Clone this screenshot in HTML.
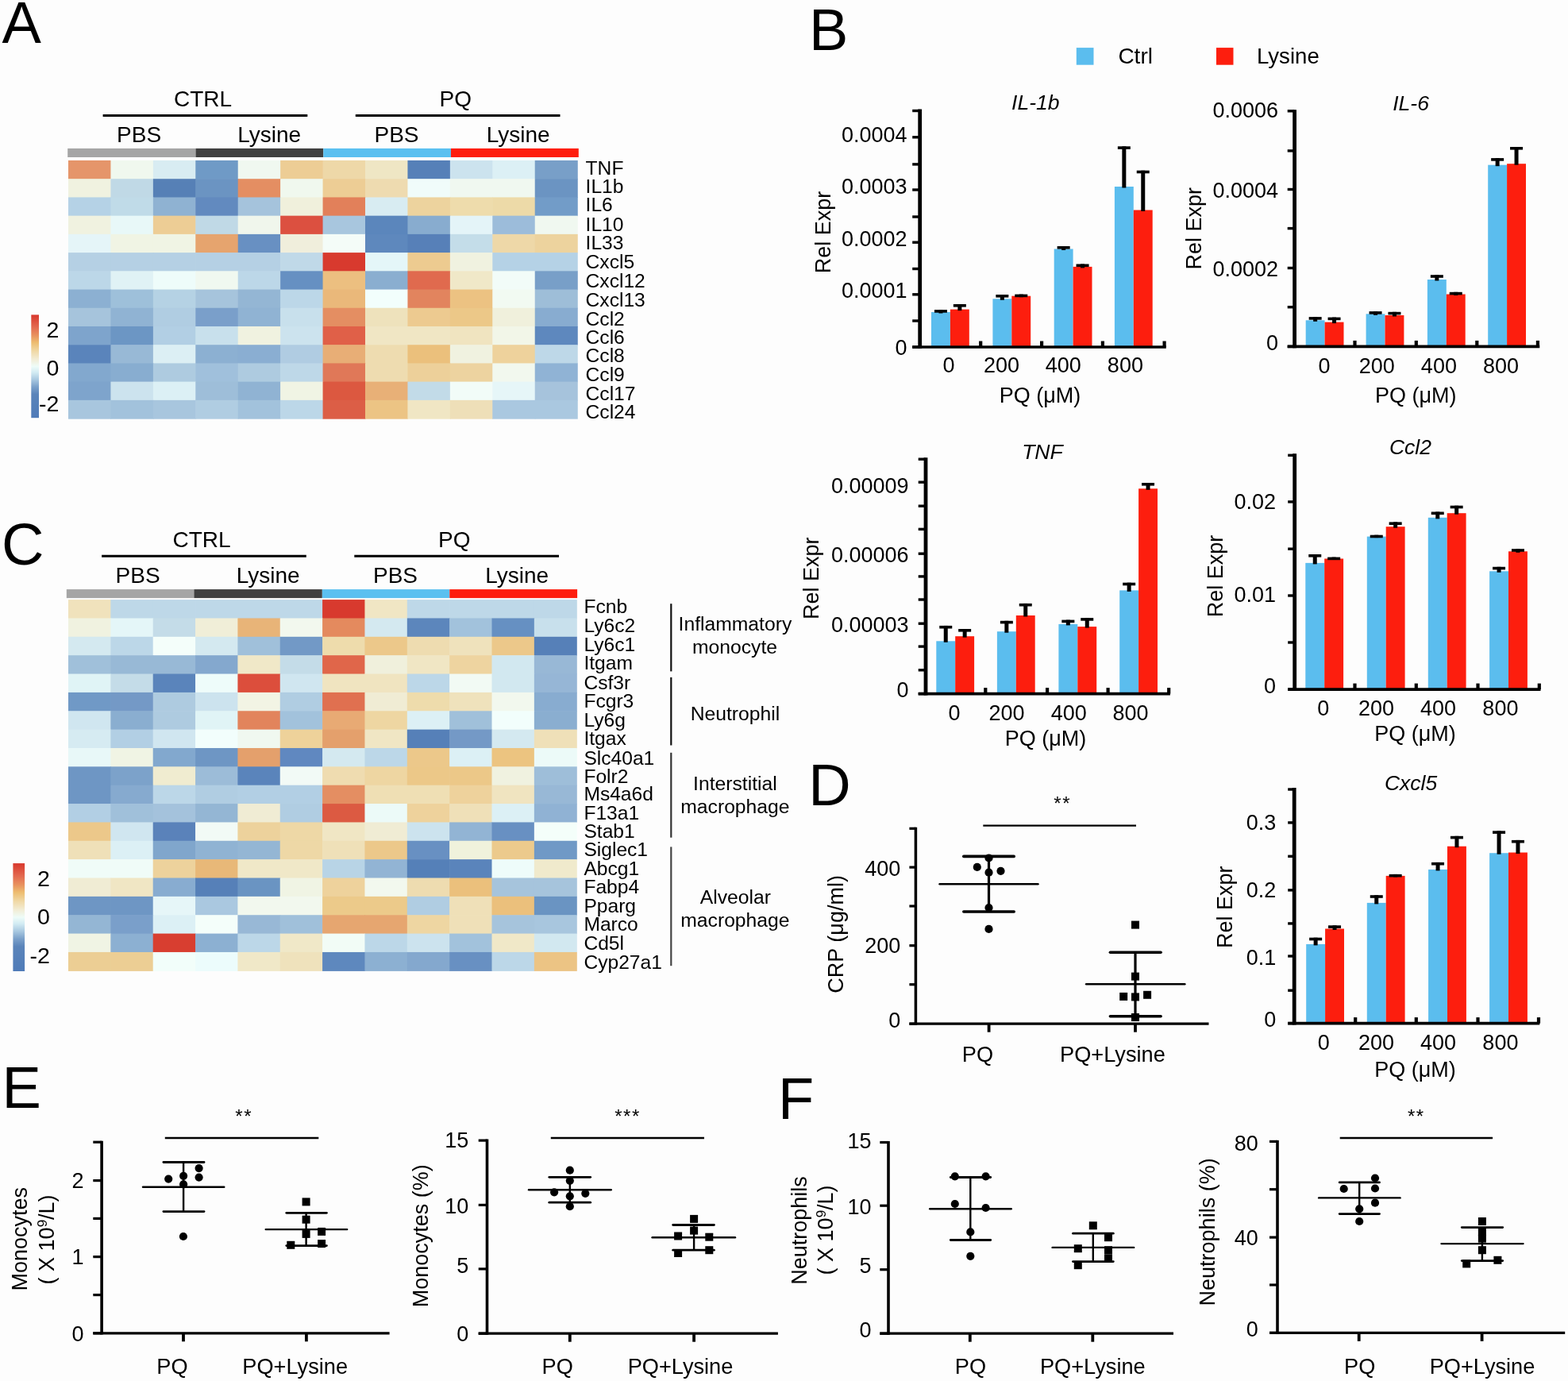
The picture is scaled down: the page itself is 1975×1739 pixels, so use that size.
<!DOCTYPE html>
<html><head><meta charset="utf-8"><title>Figure</title><style>html,body{margin:0;padding:0;background:#fdfdfd;overflow:hidden;}svg{display:block;}</style></head><body><svg width="1975" height="1739" viewBox="0 0 1975 1739" font-family="'Liberation Sans', Arial, sans-serif" fill="#000"><rect width="1975" height="1739" fill="#fdfdfd"/><text x="2.5" y="54.4" font-size="74" text-anchor="start">A</text>
<text x="255.6" y="133.7" font-size="28" text-anchor="middle">CTRL</text>
<text x="573.8" y="133.7" font-size="28" text-anchor="middle">PQ</text>
<line x1="129.6" y1="145.4" x2="387.3" y2="145.4" stroke="#000" stroke-width="3" stroke-linecap="butt"/>
<line x1="447.8" y1="145.4" x2="705.5" y2="145.4" stroke="#000" stroke-width="3" stroke-linecap="butt"/>
<text x="175.1" y="179.4" font-size="28" text-anchor="middle">PBS</text>
<text x="339.2" y="179.4" font-size="28" text-anchor="middle">Lysine</text>
<text x="499.5" y="179.4" font-size="28" text-anchor="middle">PBS</text>
<text x="652.7" y="179.4" font-size="28" text-anchor="middle">Lysine</text>
<rect x="85.2" y="186.9" width="161.3" height="11.1" fill="#a5a5a5"/>
<rect x="246.5" y="186.9" width="160.8" height="11.1" fill="#404040"/>
<rect x="407.3" y="186.9" width="160.7" height="11.1" fill="#5bc0f0"/>
<rect x="568" y="186.9" width="160.8" height="11.1" fill="#fe1e0e"/>
<rect x="86" y="202" width="54.03" height="23.82" fill="#e5956a"/>
<rect x="139.43" y="202" width="54.03" height="23.82" fill="#f0f8ee"/>
<rect x="192.86" y="202" width="54.03" height="23.82" fill="#d8ecf2"/>
<rect x="246.29" y="202" width="54.03" height="23.82" fill="#6f9ac6"/>
<rect x="299.72" y="202" width="54.03" height="23.82" fill="#f0f8f0"/>
<rect x="353.15" y="202" width="54.03" height="23.82" fill="#edcd95"/>
<rect x="406.58" y="202" width="54.03" height="23.82" fill="#eed8a8"/>
<rect x="460.01" y="202" width="54.03" height="23.82" fill="#efe6c4"/>
<rect x="513.44" y="202" width="54.03" height="23.82" fill="#5680b8"/>
<rect x="566.87" y="202" width="54.03" height="23.82" fill="#cce3ee"/>
<rect x="620.3" y="202" width="54.03" height="23.82" fill="#dcf0f5"/>
<rect x="673.73" y="202" width="54.03" height="23.82" fill="#789fc8"/>
<rect x="86" y="225.22" width="54.03" height="23.82" fill="#f0f2e0"/>
<rect x="139.43" y="225.22" width="54.03" height="23.82" fill="#c0d9e6"/>
<rect x="192.86" y="225.22" width="54.03" height="23.82" fill="#5680b6"/>
<rect x="246.29" y="225.22" width="54.03" height="23.82" fill="#6b94c2"/>
<rect x="299.72" y="225.22" width="54.03" height="23.82" fill="#e48e62"/>
<rect x="353.15" y="225.22" width="54.03" height="23.82" fill="#f0f8ee"/>
<rect x="406.58" y="225.22" width="54.03" height="23.82" fill="#edcd95"/>
<rect x="460.01" y="225.22" width="54.03" height="23.82" fill="#eedbb0"/>
<rect x="513.44" y="225.22" width="54.03" height="23.82" fill="#f0fcfa"/>
<rect x="566.87" y="225.22" width="54.03" height="23.82" fill="#f0f8f0"/>
<rect x="620.3" y="225.22" width="54.03" height="23.82" fill="#f0f8f0"/>
<rect x="673.73" y="225.22" width="54.03" height="23.82" fill="#6b94c2"/>
<rect x="86" y="248.44" width="54.03" height="23.82" fill="#b5d2e6"/>
<rect x="139.43" y="248.44" width="54.03" height="23.82" fill="#c0dbe8"/>
<rect x="192.86" y="248.44" width="54.03" height="23.82" fill="#8fb2d2"/>
<rect x="246.29" y="248.44" width="54.03" height="23.82" fill="#628abf"/>
<rect x="299.72" y="248.44" width="54.03" height="23.82" fill="#a5c3dc"/>
<rect x="353.15" y="248.44" width="54.03" height="23.82" fill="#f0f0dc"/>
<rect x="406.58" y="248.44" width="54.03" height="23.82" fill="#e2805a"/>
<rect x="460.01" y="248.44" width="54.03" height="23.82" fill="#d8ecf2"/>
<rect x="513.44" y="248.44" width="54.03" height="23.82" fill="#edd39e"/>
<rect x="566.87" y="248.44" width="54.03" height="23.82" fill="#eedcac"/>
<rect x="620.3" y="248.44" width="54.03" height="23.82" fill="#eddaa8"/>
<rect x="673.73" y="248.44" width="54.03" height="23.82" fill="#729cc8"/>
<rect x="86" y="271.66" width="54.03" height="23.82" fill="#f0f2e0"/>
<rect x="139.43" y="271.66" width="54.03" height="23.82" fill="#e8f8f8"/>
<rect x="192.86" y="271.66" width="54.03" height="23.82" fill="#edcd95"/>
<rect x="246.29" y="271.66" width="54.03" height="23.82" fill="#c0d9e6"/>
<rect x="299.72" y="271.66" width="54.03" height="23.82" fill="#f0f6ec"/>
<rect x="353.15" y="271.66" width="54.03" height="23.82" fill="#dc5040"/>
<rect x="406.58" y="271.66" width="54.03" height="23.82" fill="#a8c6de"/>
<rect x="460.01" y="271.66" width="54.03" height="23.82" fill="#5b86bc"/>
<rect x="513.44" y="271.66" width="54.03" height="23.82" fill="#88accf"/>
<rect x="566.87" y="271.66" width="54.03" height="23.82" fill="#e4f4f8"/>
<rect x="620.3" y="271.66" width="54.03" height="23.82" fill="#9cbcda"/>
<rect x="673.73" y="271.66" width="54.03" height="23.82" fill="#f0f8f0"/>
<rect x="86" y="294.88" width="54.03" height="23.82" fill="#e5f5f8"/>
<rect x="139.43" y="294.88" width="54.03" height="23.82" fill="#f0f4e4"/>
<rect x="192.86" y="294.88" width="54.03" height="23.82" fill="#f0f4e4"/>
<rect x="246.29" y="294.88" width="54.03" height="23.82" fill="#e6a46e"/>
<rect x="299.72" y="294.88" width="54.03" height="23.82" fill="#6890c2"/>
<rect x="353.15" y="294.88" width="54.03" height="23.82" fill="#f0eedc"/>
<rect x="406.58" y="294.88" width="54.03" height="23.82" fill="#f4fcf8"/>
<rect x="460.01" y="294.88" width="54.03" height="23.82" fill="#5e88bd"/>
<rect x="513.44" y="294.88" width="54.03" height="23.82" fill="#5780b8"/>
<rect x="566.87" y="294.88" width="54.03" height="23.82" fill="#c4dde9"/>
<rect x="620.3" y="294.88" width="54.03" height="23.82" fill="#eed8a8"/>
<rect x="673.73" y="294.88" width="54.03" height="23.82" fill="#edd39e"/>
<rect x="86" y="318.1" width="54.03" height="23.82" fill="#b5d0e4"/>
<rect x="139.43" y="318.1" width="54.03" height="23.82" fill="#b5d0e4"/>
<rect x="192.86" y="318.1" width="54.03" height="23.82" fill="#b5d0e4"/>
<rect x="246.29" y="318.1" width="54.03" height="23.82" fill="#b5d0e4"/>
<rect x="299.72" y="318.1" width="54.03" height="23.82" fill="#b5d0e4"/>
<rect x="353.15" y="318.1" width="54.03" height="23.82" fill="#c0d9e8"/>
<rect x="406.58" y="318.1" width="54.03" height="23.82" fill="#d83a2e"/>
<rect x="460.01" y="318.1" width="54.03" height="23.82" fill="#e4f6f8"/>
<rect x="513.44" y="318.1" width="54.03" height="23.82" fill="#edcb90"/>
<rect x="566.87" y="318.1" width="54.03" height="23.82" fill="#f0f2e0"/>
<rect x="620.3" y="318.1" width="54.03" height="23.82" fill="#b5d2e6"/>
<rect x="673.73" y="318.1" width="54.03" height="23.82" fill="#b5d2e6"/>
<rect x="86" y="341.32" width="54.03" height="23.82" fill="#bcd7e8"/>
<rect x="139.43" y="341.32" width="54.03" height="23.82" fill="#e0f2f5"/>
<rect x="192.86" y="341.32" width="54.03" height="23.82" fill="#eefcfa"/>
<rect x="246.29" y="341.32" width="54.03" height="23.82" fill="#f0f8f0"/>
<rect x="299.72" y="341.32" width="54.03" height="23.82" fill="#bcd7e8"/>
<rect x="353.15" y="341.32" width="54.03" height="23.82" fill="#6690c2"/>
<rect x="406.58" y="341.32" width="54.03" height="23.82" fill="#ecbf80"/>
<rect x="460.01" y="341.32" width="54.03" height="23.82" fill="#8aaed0"/>
<rect x="513.44" y="341.32" width="54.03" height="23.82" fill="#e06a4e"/>
<rect x="566.87" y="341.32" width="54.03" height="23.82" fill="#f0e8c8"/>
<rect x="620.3" y="341.32" width="54.03" height="23.82" fill="#f2fcf8"/>
<rect x="673.73" y="341.32" width="54.03" height="23.82" fill="#789fc8"/>
<rect x="86" y="364.54" width="54.03" height="23.82" fill="#8cb0d2"/>
<rect x="139.43" y="364.54" width="54.03" height="23.82" fill="#9ec0da"/>
<rect x="192.86" y="364.54" width="54.03" height="23.82" fill="#b5d2e4"/>
<rect x="246.29" y="364.54" width="54.03" height="23.82" fill="#a6c4dc"/>
<rect x="299.72" y="364.54" width="54.03" height="23.82" fill="#94b6d4"/>
<rect x="353.15" y="364.54" width="54.03" height="23.82" fill="#bcd7e8"/>
<rect x="406.58" y="364.54" width="54.03" height="23.82" fill="#eab87a"/>
<rect x="460.01" y="364.54" width="54.03" height="23.82" fill="#f2fefc"/>
<rect x="513.44" y="364.54" width="54.03" height="23.82" fill="#e2845e"/>
<rect x="566.87" y="364.54" width="54.03" height="23.82" fill="#ecc282"/>
<rect x="620.3" y="364.54" width="54.03" height="23.82" fill="#f2faf2"/>
<rect x="673.73" y="364.54" width="54.03" height="23.82" fill="#9ebed8"/>
<rect x="86" y="387.76" width="54.03" height="23.82" fill="#a6c4dc"/>
<rect x="139.43" y="387.76" width="54.03" height="23.82" fill="#90b3d3"/>
<rect x="192.86" y="387.76" width="54.03" height="23.82" fill="#b0cde2"/>
<rect x="246.29" y="387.76" width="54.03" height="23.82" fill="#7a9fca"/>
<rect x="299.72" y="387.76" width="54.03" height="23.82" fill="#90b3d3"/>
<rect x="353.15" y="387.76" width="54.03" height="23.82" fill="#c8e0ec"/>
<rect x="406.58" y="387.76" width="54.03" height="23.82" fill="#e48e62"/>
<rect x="460.01" y="387.76" width="54.03" height="23.82" fill="#eee2bc"/>
<rect x="513.44" y="387.76" width="54.03" height="23.82" fill="#edca90"/>
<rect x="566.87" y="387.76" width="54.03" height="23.82" fill="#ecc888"/>
<rect x="620.3" y="387.76" width="54.03" height="23.82" fill="#f0f0dc"/>
<rect x="673.73" y="387.76" width="54.03" height="23.82" fill="#88acd0"/>
<rect x="86" y="410.98" width="54.03" height="23.82" fill="#7ea4cc"/>
<rect x="139.43" y="410.98" width="54.03" height="23.82" fill="#6c96c4"/>
<rect x="192.86" y="410.98" width="54.03" height="23.82" fill="#b2cfe4"/>
<rect x="246.29" y="410.98" width="54.03" height="23.82" fill="#c8e0ec"/>
<rect x="299.72" y="410.98" width="54.03" height="23.82" fill="#f0f2e0"/>
<rect x="353.15" y="410.98" width="54.03" height="23.82" fill="#cce3ee"/>
<rect x="406.58" y="410.98" width="54.03" height="23.82" fill="#e06048"/>
<rect x="460.01" y="410.98" width="54.03" height="23.82" fill="#f0e6c4"/>
<rect x="513.44" y="410.98" width="54.03" height="23.82" fill="#f0e6c4"/>
<rect x="566.87" y="410.98" width="54.03" height="23.82" fill="#f0e4c0"/>
<rect x="620.3" y="410.98" width="54.03" height="23.82" fill="#f2f6e8"/>
<rect x="673.73" y="410.98" width="54.03" height="23.82" fill="#5e88be"/>
<rect x="86" y="434.2" width="54.03" height="23.82" fill="#5a84bb"/>
<rect x="139.43" y="434.2" width="54.03" height="23.82" fill="#98b9d6"/>
<rect x="192.86" y="434.2" width="54.03" height="23.82" fill="#dceff4"/>
<rect x="246.29" y="434.2" width="54.03" height="23.82" fill="#8cb0d2"/>
<rect x="299.72" y="434.2" width="54.03" height="23.82" fill="#8aaed2"/>
<rect x="353.15" y="434.2" width="54.03" height="23.82" fill="#b0cce2"/>
<rect x="406.58" y="434.2" width="54.03" height="23.82" fill="#e8ae76"/>
<rect x="460.01" y="434.2" width="54.03" height="23.82" fill="#eedcb0"/>
<rect x="513.44" y="434.2" width="54.03" height="23.82" fill="#ebc07c"/>
<rect x="566.87" y="434.2" width="54.03" height="23.82" fill="#f0f2e0"/>
<rect x="620.3" y="434.2" width="54.03" height="23.82" fill="#eed29c"/>
<rect x="673.73" y="434.2" width="54.03" height="23.82" fill="#bed8e8"/>
<rect x="86" y="457.42" width="54.03" height="23.82" fill="#82a8ce"/>
<rect x="139.43" y="457.42" width="54.03" height="23.82" fill="#88add0"/>
<rect x="192.86" y="457.42" width="54.03" height="23.82" fill="#aecbe0"/>
<rect x="246.29" y="457.42" width="54.03" height="23.82" fill="#a0c0dc"/>
<rect x="299.72" y="457.42" width="54.03" height="23.82" fill="#aecbe0"/>
<rect x="353.15" y="457.42" width="54.03" height="23.82" fill="#bed8e8"/>
<rect x="406.58" y="457.42" width="54.03" height="23.82" fill="#e07858"/>
<rect x="460.01" y="457.42" width="54.03" height="23.82" fill="#eedcb0"/>
<rect x="513.44" y="457.42" width="54.03" height="23.82" fill="#edd09a"/>
<rect x="566.87" y="457.42" width="54.03" height="23.82" fill="#edd3a0"/>
<rect x="620.3" y="457.42" width="54.03" height="23.82" fill="#f2f8ee"/>
<rect x="673.73" y="457.42" width="54.03" height="23.82" fill="#90b3d5"/>
<rect x="86" y="480.64" width="54.03" height="23.82" fill="#7ea4cc"/>
<rect x="139.43" y="480.64" width="54.03" height="23.82" fill="#cce3ee"/>
<rect x="192.86" y="480.64" width="54.03" height="23.82" fill="#dcf0f5"/>
<rect x="246.29" y="480.64" width="54.03" height="23.82" fill="#9ebed9"/>
<rect x="299.72" y="480.64" width="54.03" height="23.82" fill="#90b3d3"/>
<rect x="353.15" y="480.64" width="54.03" height="23.82" fill="#f0f4e4"/>
<rect x="406.58" y="480.64" width="54.03" height="23.82" fill="#dc5840"/>
<rect x="460.01" y="480.64" width="54.03" height="23.82" fill="#e8b077"/>
<rect x="513.44" y="480.64" width="54.03" height="23.82" fill="#c2dbe8"/>
<rect x="566.87" y="480.64" width="54.03" height="23.82" fill="#f2fcf8"/>
<rect x="620.3" y="480.64" width="54.03" height="23.82" fill="#e6f6f8"/>
<rect x="673.73" y="480.64" width="54.03" height="23.82" fill="#a6c3dc"/>
<rect x="86" y="503.86" width="54.03" height="23.82" fill="#a8c6de"/>
<rect x="139.43" y="503.86" width="54.03" height="23.82" fill="#a2c2dc"/>
<rect x="192.86" y="503.86" width="54.03" height="23.82" fill="#a8c6de"/>
<rect x="246.29" y="503.86" width="54.03" height="23.82" fill="#b0cde2"/>
<rect x="299.72" y="503.86" width="54.03" height="23.82" fill="#a2c2dc"/>
<rect x="353.15" y="503.86" width="54.03" height="23.82" fill="#bcd7e8"/>
<rect x="406.58" y="503.86" width="54.03" height="23.82" fill="#dc5e46"/>
<rect x="460.01" y="503.86" width="54.03" height="23.82" fill="#ecc484"/>
<rect x="513.44" y="503.86" width="54.03" height="23.82" fill="#f0e6c4"/>
<rect x="566.87" y="503.86" width="54.03" height="23.82" fill="#eedfb8"/>
<rect x="620.3" y="503.86" width="54.03" height="23.82" fill="#aac8e0"/>
<rect x="673.73" y="503.86" width="54.03" height="23.82" fill="#aac8e0"/>
<text x="737.6" y="219.5" font-size="24.6" text-anchor="start">TNF</text>
<text x="737.6" y="242.9" font-size="24.6" text-anchor="start">IL1b</text>
<text x="737.6" y="266.4" font-size="24.6" text-anchor="start">IL6</text>
<text x="737.6" y="290.9" font-size="24.6" text-anchor="start">IL10</text>
<text x="737.6" y="314.4" font-size="24.6" text-anchor="start">IL33</text>
<text x="737.6" y="337.5" font-size="24.6" text-anchor="start">Cxcl5</text>
<text x="737.6" y="362.3" font-size="24.6" text-anchor="start">Cxcl12</text>
<text x="737.6" y="385.8" font-size="24.6" text-anchor="start">Cxcl13</text>
<text x="737.6" y="410.3" font-size="24.6" text-anchor="start">Ccl2</text>
<text x="737.6" y="432.8" font-size="24.6" text-anchor="start">Ccl6</text>
<text x="737.6" y="456.3" font-size="24.6" text-anchor="start">Ccl8</text>
<text x="737.6" y="479.7" font-size="24.6" text-anchor="start">Ccl9</text>
<text x="737.6" y="503.8" font-size="24.6" text-anchor="start">Ccl17</text>
<text x="737.6" y="526.7" font-size="24.6" text-anchor="start">Ccl24</text>
<defs><linearGradient id="cb" x1="0" y1="0" x2="0" y2="1"><stop offset="0.0" stop-color="#d8372c"/><stop offset="0.12" stop-color="#e36a50"/><stop offset="0.2" stop-color="#e8925e"/><stop offset="0.27" stop-color="#edbd70"/><stop offset="0.35" stop-color="#f0d8a4"/><stop offset="0.43" stop-color="#f2ecd4"/><stop offset="0.5" stop-color="#eefcf8"/><stop offset="0.56" stop-color="#d2ebf3"/><stop offset="0.63" stop-color="#a8c8e0"/><stop offset="0.7" stop-color="#7aa0ca"/><stop offset="0.77" stop-color="#5a84ba"/><stop offset="1.0" stop-color="#4f7bb8"/></linearGradient></defs>
<rect x="39.3" y="396.4" width="9.7" height="129.8" fill="url(#cb)"/>
<text x="74.3" y="425.1" font-size="28.5" text-anchor="end">2</text>
<text x="74.3" y="472.9" font-size="28.5" text-anchor="end">0</text>
<text x="74.3" y="517.5" font-size="28.5" text-anchor="end">-2</text>
<text x="2" y="710.7" font-size="74" text-anchor="start">C</text>
<text x="254.1" y="688.6" font-size="28" text-anchor="middle">CTRL</text>
<text x="572.3" y="688.6" font-size="28" text-anchor="middle">PQ</text>
<line x1="128.1" y1="700.3" x2="385.8" y2="700.3" stroke="#000" stroke-width="3" stroke-linecap="butt"/>
<line x1="446.3" y1="700.3" x2="704" y2="700.3" stroke="#000" stroke-width="3" stroke-linecap="butt"/>
<text x="173.6" y="734.3" font-size="28" text-anchor="middle">PBS</text>
<text x="337.7" y="734.3" font-size="28" text-anchor="middle">Lysine</text>
<text x="498" y="734.3" font-size="28" text-anchor="middle">PBS</text>
<text x="651.2" y="734.3" font-size="28" text-anchor="middle">Lysine</text>
<rect x="83.8" y="742.1" width="160.6" height="11" fill="#a5a5a5"/>
<rect x="244.4" y="742.1" width="161.4" height="11" fill="#404040"/>
<rect x="405.9" y="742.1" width="160.4" height="11" fill="#5bc0f0"/>
<rect x="566.3" y="742.1" width="160.8" height="11" fill="#fe1e0e"/>
<rect x="86" y="755.1" width="53.95" height="23.96" fill="#f0e2bc"/>
<rect x="139.35" y="755.1" width="53.95" height="23.96" fill="#bed8e8"/>
<rect x="192.7" y="755.1" width="53.95" height="23.96" fill="#bed8e8"/>
<rect x="246.05" y="755.1" width="53.95" height="23.96" fill="#bed8e8"/>
<rect x="299.4" y="755.1" width="53.95" height="23.96" fill="#bed8e8"/>
<rect x="352.75" y="755.1" width="53.95" height="23.96" fill="#bed8e8"/>
<rect x="406.1" y="755.1" width="53.95" height="23.96" fill="#d83a2e"/>
<rect x="459.45" y="755.1" width="53.95" height="23.96" fill="#f0e6c4"/>
<rect x="512.8" y="755.1" width="53.95" height="23.96" fill="#bed8e8"/>
<rect x="566.15" y="755.1" width="53.95" height="23.96" fill="#bed8e8"/>
<rect x="619.5" y="755.1" width="53.95" height="23.96" fill="#bed8e8"/>
<rect x="672.85" y="755.1" width="53.95" height="23.96" fill="#bed8e8"/>
<rect x="86" y="778.46" width="53.95" height="23.96" fill="#f0f2e0"/>
<rect x="139.35" y="778.46" width="53.95" height="23.96" fill="#e4f6f8"/>
<rect x="192.7" y="778.46" width="53.95" height="23.96" fill="#c4dce8"/>
<rect x="246.05" y="778.46" width="53.95" height="23.96" fill="#f0eed8"/>
<rect x="299.4" y="778.46" width="53.95" height="23.96" fill="#e8b478"/>
<rect x="352.75" y="778.46" width="53.95" height="23.96" fill="#f2f8ee"/>
<rect x="406.1" y="778.46" width="53.95" height="23.96" fill="#e48a5e"/>
<rect x="459.45" y="778.46" width="53.95" height="23.96" fill="#d4e9f0"/>
<rect x="512.8" y="778.46" width="53.95" height="23.96" fill="#5c86bc"/>
<rect x="566.15" y="778.46" width="53.95" height="23.96" fill="#a2c2dc"/>
<rect x="619.5" y="778.46" width="53.95" height="23.96" fill="#6690c2"/>
<rect x="672.85" y="778.46" width="53.95" height="23.96" fill="#c8e0ec"/>
<rect x="86" y="801.82" width="53.95" height="23.96" fill="#d4e9f0"/>
<rect x="139.35" y="801.82" width="53.95" height="23.96" fill="#bcd7e8"/>
<rect x="192.7" y="801.82" width="53.95" height="23.96" fill="#f4fefa"/>
<rect x="246.05" y="801.82" width="53.95" height="23.96" fill="#d4e9f0"/>
<rect x="299.4" y="801.82" width="53.95" height="23.96" fill="#a0c0da"/>
<rect x="352.75" y="801.82" width="53.95" height="23.96" fill="#7299c6"/>
<rect x="406.1" y="801.82" width="53.95" height="23.96" fill="#eedcac"/>
<rect x="459.45" y="801.82" width="53.95" height="23.96" fill="#ecc88a"/>
<rect x="512.8" y="801.82" width="53.95" height="23.96" fill="#eedcb0"/>
<rect x="566.15" y="801.82" width="53.95" height="23.96" fill="#efe2bc"/>
<rect x="619.5" y="801.82" width="53.95" height="23.96" fill="#ecc88a"/>
<rect x="672.85" y="801.82" width="53.95" height="23.96" fill="#5680b8"/>
<rect x="86" y="825.18" width="53.95" height="23.96" fill="#a0c0da"/>
<rect x="139.35" y="825.18" width="53.95" height="23.96" fill="#98b9d6"/>
<rect x="192.7" y="825.18" width="53.95" height="23.96" fill="#98b9d6"/>
<rect x="246.05" y="825.18" width="53.95" height="23.96" fill="#84a8ce"/>
<rect x="299.4" y="825.18" width="53.95" height="23.96" fill="#f0e8c8"/>
<rect x="352.75" y="825.18" width="53.95" height="23.96" fill="#c4dce8"/>
<rect x="406.1" y="825.18" width="53.95" height="23.96" fill="#e0664a"/>
<rect x="459.45" y="825.18" width="53.95" height="23.96" fill="#f0f0dc"/>
<rect x="512.8" y="825.18" width="53.95" height="23.96" fill="#f0e6c4"/>
<rect x="566.15" y="825.18" width="53.95" height="23.96" fill="#eed4a0"/>
<rect x="619.5" y="825.18" width="53.95" height="23.96" fill="#d2e8f0"/>
<rect x="672.85" y="825.18" width="53.95" height="23.96" fill="#98b8d6"/>
<rect x="86" y="848.54" width="53.95" height="23.96" fill="#e0f4f6"/>
<rect x="139.35" y="848.54" width="53.95" height="23.96" fill="#c4dce8"/>
<rect x="192.7" y="848.54" width="53.95" height="23.96" fill="#5a84bb"/>
<rect x="246.05" y="848.54" width="53.95" height="23.96" fill="#eefcfa"/>
<rect x="299.4" y="848.54" width="53.95" height="23.96" fill="#dc4e3c"/>
<rect x="352.75" y="848.54" width="53.95" height="23.96" fill="#d0e6f0"/>
<rect x="406.1" y="848.54" width="53.95" height="23.96" fill="#f0e4c0"/>
<rect x="459.45" y="848.54" width="53.95" height="23.96" fill="#f0e4c0"/>
<rect x="512.8" y="848.54" width="53.95" height="23.96" fill="#bcd7e8"/>
<rect x="566.15" y="848.54" width="53.95" height="23.96" fill="#f2faf4"/>
<rect x="619.5" y="848.54" width="53.95" height="23.96" fill="#d2e8f0"/>
<rect x="672.85" y="848.54" width="53.95" height="23.96" fill="#96b6d6"/>
<rect x="86" y="871.9" width="53.95" height="23.96" fill="#7099c6"/>
<rect x="139.35" y="871.9" width="53.95" height="23.96" fill="#7499c6"/>
<rect x="192.7" y="871.9" width="53.95" height="23.96" fill="#aecbe0"/>
<rect x="246.05" y="871.9" width="53.95" height="23.96" fill="#cce3ee"/>
<rect x="299.4" y="871.9" width="53.95" height="23.96" fill="#f2f4e4"/>
<rect x="352.75" y="871.9" width="53.95" height="23.96" fill="#b0cde2"/>
<rect x="406.1" y="871.9" width="53.95" height="23.96" fill="#e07050"/>
<rect x="459.45" y="871.9" width="53.95" height="23.96" fill="#f0ecd4"/>
<rect x="512.8" y="871.9" width="53.95" height="23.96" fill="#eedcac"/>
<rect x="566.15" y="871.9" width="53.95" height="23.96" fill="#efe2bc"/>
<rect x="619.5" y="871.9" width="53.95" height="23.96" fill="#f2f8ee"/>
<rect x="672.85" y="871.9" width="53.95" height="23.96" fill="#88acd0"/>
<rect x="86" y="895.26" width="53.95" height="23.96" fill="#d0e6f0"/>
<rect x="139.35" y="895.26" width="53.95" height="23.96" fill="#8aaed0"/>
<rect x="192.7" y="895.26" width="53.95" height="23.96" fill="#aecbe0"/>
<rect x="246.05" y="895.26" width="53.95" height="23.96" fill="#e0f4f6"/>
<rect x="299.4" y="895.26" width="53.95" height="23.96" fill="#e2845c"/>
<rect x="352.75" y="895.26" width="53.95" height="23.96" fill="#a2c2dc"/>
<rect x="406.1" y="895.26" width="53.95" height="23.96" fill="#e8aa74"/>
<rect x="459.45" y="895.26" width="53.95" height="23.96" fill="#eed6a2"/>
<rect x="512.8" y="895.26" width="53.95" height="23.96" fill="#dcf0f5"/>
<rect x="566.15" y="895.26" width="53.95" height="23.96" fill="#a0c0da"/>
<rect x="619.5" y="895.26" width="53.95" height="23.96" fill="#f2fefc"/>
<rect x="672.85" y="895.26" width="53.95" height="23.96" fill="#8aaed0"/>
<rect x="86" y="918.62" width="53.95" height="23.96" fill="#d6ebf2"/>
<rect x="139.35" y="918.62" width="53.95" height="23.96" fill="#b2cfe4"/>
<rect x="192.7" y="918.62" width="53.95" height="23.96" fill="#d0e6f0"/>
<rect x="246.05" y="918.62" width="53.95" height="23.96" fill="#f2fefc"/>
<rect x="299.4" y="918.62" width="53.95" height="23.96" fill="#f0f8f0"/>
<rect x="352.75" y="918.62" width="53.95" height="23.96" fill="#eed29a"/>
<rect x="406.1" y="918.62" width="53.95" height="23.96" fill="#e4a06c"/>
<rect x="459.45" y="918.62" width="53.95" height="23.96" fill="#f0e6c4"/>
<rect x="512.8" y="918.62" width="53.95" height="23.96" fill="#5680b8"/>
<rect x="566.15" y="918.62" width="53.95" height="23.96" fill="#7499c6"/>
<rect x="619.5" y="918.62" width="53.95" height="23.96" fill="#d4e9f0"/>
<rect x="672.85" y="918.62" width="53.95" height="23.96" fill="#efe0b8"/>
<rect x="86" y="941.98" width="53.95" height="23.96" fill="#e8f8f8"/>
<rect x="139.35" y="941.98" width="53.95" height="23.96" fill="#f0f4e4"/>
<rect x="192.7" y="941.98" width="53.95" height="23.96" fill="#82a8ce"/>
<rect x="246.05" y="941.98" width="53.95" height="23.96" fill="#6e96c4"/>
<rect x="299.4" y="941.98" width="53.95" height="23.96" fill="#e4a06c"/>
<rect x="352.75" y="941.98" width="53.95" height="23.96" fill="#6088c0"/>
<rect x="406.1" y="941.98" width="53.95" height="23.96" fill="#d4e9f0"/>
<rect x="459.45" y="941.98" width="53.95" height="23.96" fill="#bcd7e8"/>
<rect x="512.8" y="941.98" width="53.95" height="23.96" fill="#ecc88a"/>
<rect x="566.15" y="941.98" width="53.95" height="23.96" fill="#dcf0f5"/>
<rect x="619.5" y="941.98" width="53.95" height="23.96" fill="#ecc480"/>
<rect x="672.85" y="941.98" width="53.95" height="23.96" fill="#ecfaf8"/>
<rect x="86" y="965.34" width="53.95" height="23.96" fill="#6e96c4"/>
<rect x="139.35" y="965.34" width="53.95" height="23.96" fill="#7ca2ca"/>
<rect x="192.7" y="965.34" width="53.95" height="23.96" fill="#f0ecd0"/>
<rect x="246.05" y="965.34" width="53.95" height="23.96" fill="#9cbcd8"/>
<rect x="299.4" y="965.34" width="53.95" height="23.96" fill="#5a84bb"/>
<rect x="352.75" y="965.34" width="53.95" height="23.96" fill="#f2faf6"/>
<rect x="406.1" y="965.34" width="53.95" height="23.96" fill="#efdcb0"/>
<rect x="459.45" y="965.34" width="53.95" height="23.96" fill="#eed6a2"/>
<rect x="512.8" y="965.34" width="53.95" height="23.96" fill="#ecc888"/>
<rect x="566.15" y="965.34" width="53.95" height="23.96" fill="#ecc888"/>
<rect x="619.5" y="965.34" width="53.95" height="23.96" fill="#f0f2e0"/>
<rect x="672.85" y="965.34" width="53.95" height="23.96" fill="#9ebed9"/>
<rect x="86" y="988.7" width="53.95" height="23.96" fill="#6e96c4"/>
<rect x="139.35" y="988.7" width="53.95" height="23.96" fill="#86aacf"/>
<rect x="192.7" y="988.7" width="53.95" height="23.96" fill="#bcd7e8"/>
<rect x="246.05" y="988.7" width="53.95" height="23.96" fill="#b0cde2"/>
<rect x="299.4" y="988.7" width="53.95" height="23.96" fill="#b2cfe4"/>
<rect x="352.75" y="988.7" width="53.95" height="23.96" fill="#b2cfe4"/>
<rect x="406.1" y="988.7" width="53.95" height="23.96" fill="#e48e62"/>
<rect x="459.45" y="988.7" width="53.95" height="23.96" fill="#efdfb4"/>
<rect x="512.8" y="988.7" width="53.95" height="23.96" fill="#efdfb4"/>
<rect x="566.15" y="988.7" width="53.95" height="23.96" fill="#eed29c"/>
<rect x="619.5" y="988.7" width="53.95" height="23.96" fill="#f0e4c0"/>
<rect x="672.85" y="988.7" width="53.95" height="23.96" fill="#98b8d6"/>
<rect x="86" y="1012.06" width="53.95" height="23.96" fill="#b2cfe4"/>
<rect x="139.35" y="1012.06" width="53.95" height="23.96" fill="#a0c0da"/>
<rect x="192.7" y="1012.06" width="53.95" height="23.96" fill="#a4c2dc"/>
<rect x="246.05" y="1012.06" width="53.95" height="23.96" fill="#94b6d4"/>
<rect x="299.4" y="1012.06" width="53.95" height="23.96" fill="#f0ecd4"/>
<rect x="352.75" y="1012.06" width="53.95" height="23.96" fill="#b0cde2"/>
<rect x="406.1" y="1012.06" width="53.95" height="23.96" fill="#dc5a42"/>
<rect x="459.45" y="1012.06" width="53.95" height="23.96" fill="#ecfaf8"/>
<rect x="512.8" y="1012.06" width="53.95" height="23.96" fill="#eed29c"/>
<rect x="566.15" y="1012.06" width="53.95" height="23.96" fill="#efe0b8"/>
<rect x="619.5" y="1012.06" width="53.95" height="23.96" fill="#dcf0f5"/>
<rect x="672.85" y="1012.06" width="53.95" height="23.96" fill="#90b2d4"/>
<rect x="86" y="1035.42" width="53.95" height="23.96" fill="#ecc88a"/>
<rect x="139.35" y="1035.42" width="53.95" height="23.96" fill="#d0e6f0"/>
<rect x="192.7" y="1035.42" width="53.95" height="23.96" fill="#5a82ba"/>
<rect x="246.05" y="1035.42" width="53.95" height="23.96" fill="#f2faf6"/>
<rect x="299.4" y="1035.42" width="53.95" height="23.96" fill="#edd29c"/>
<rect x="352.75" y="1035.42" width="53.95" height="23.96" fill="#eed8a6"/>
<rect x="406.1" y="1035.42" width="53.95" height="23.96" fill="#f0e6c4"/>
<rect x="459.45" y="1035.42" width="53.95" height="23.96" fill="#f0ecd4"/>
<rect x="512.8" y="1035.42" width="53.95" height="23.96" fill="#cce3ee"/>
<rect x="566.15" y="1035.42" width="53.95" height="23.96" fill="#92b4d4"/>
<rect x="619.5" y="1035.42" width="53.95" height="23.96" fill="#6890c2"/>
<rect x="672.85" y="1035.42" width="53.95" height="23.96" fill="#f4fefa"/>
<rect x="86" y="1058.78" width="53.95" height="23.96" fill="#efe0b8"/>
<rect x="139.35" y="1058.78" width="53.95" height="23.96" fill="#dcf0f5"/>
<rect x="192.7" y="1058.78" width="53.95" height="23.96" fill="#80a6cc"/>
<rect x="246.05" y="1058.78" width="53.95" height="23.96" fill="#90b3d3"/>
<rect x="299.4" y="1058.78" width="53.95" height="23.96" fill="#94b6d4"/>
<rect x="352.75" y="1058.78" width="53.95" height="23.96" fill="#eed8a6"/>
<rect x="406.1" y="1058.78" width="53.95" height="23.96" fill="#efe0b8"/>
<rect x="459.45" y="1058.78" width="53.95" height="23.96" fill="#ecc88a"/>
<rect x="512.8" y="1058.78" width="53.95" height="23.96" fill="#6890c2"/>
<rect x="566.15" y="1058.78" width="53.95" height="23.96" fill="#f0f2dc"/>
<rect x="619.5" y="1058.78" width="53.95" height="23.96" fill="#ecca8c"/>
<rect x="672.85" y="1058.78" width="53.95" height="23.96" fill="#7099c6"/>
<rect x="86" y="1082.14" width="53.95" height="23.96" fill="#f0fcf8"/>
<rect x="139.35" y="1082.14" width="53.95" height="23.96" fill="#f0fcf8"/>
<rect x="192.7" y="1082.14" width="53.95" height="23.96" fill="#edd29c"/>
<rect x="246.05" y="1082.14" width="53.95" height="23.96" fill="#e8b878"/>
<rect x="299.4" y="1082.14" width="53.95" height="23.96" fill="#f0e8c8"/>
<rect x="352.75" y="1082.14" width="53.95" height="23.96" fill="#f0e8c8"/>
<rect x="406.1" y="1082.14" width="53.95" height="23.96" fill="#b8d4e6"/>
<rect x="459.45" y="1082.14" width="53.95" height="23.96" fill="#92b4d4"/>
<rect x="512.8" y="1082.14" width="53.95" height="23.96" fill="#5580b8"/>
<rect x="566.15" y="1082.14" width="53.95" height="23.96" fill="#5a84bb"/>
<rect x="619.5" y="1082.14" width="53.95" height="23.96" fill="#eefcfa"/>
<rect x="672.85" y="1082.14" width="53.95" height="23.96" fill="#f0eacc"/>
<rect x="86" y="1105.5" width="53.95" height="23.96" fill="#f0ecd4"/>
<rect x="139.35" y="1105.5" width="53.95" height="23.96" fill="#f0e6c4"/>
<rect x="192.7" y="1105.5" width="53.95" height="23.96" fill="#88acd0"/>
<rect x="246.05" y="1105.5" width="53.95" height="23.96" fill="#5680b8"/>
<rect x="299.4" y="1105.5" width="53.95" height="23.96" fill="#6a94c2"/>
<rect x="352.75" y="1105.5" width="53.95" height="23.96" fill="#f0f4e4"/>
<rect x="406.1" y="1105.5" width="53.95" height="23.96" fill="#eed29c"/>
<rect x="459.45" y="1105.5" width="53.95" height="23.96" fill="#f2f8ee"/>
<rect x="512.8" y="1105.5" width="53.95" height="23.96" fill="#eedcb0"/>
<rect x="566.15" y="1105.5" width="53.95" height="23.96" fill="#ebc07c"/>
<rect x="619.5" y="1105.5" width="53.95" height="23.96" fill="#a6c4dc"/>
<rect x="672.85" y="1105.5" width="53.95" height="23.96" fill="#a6c4dc"/>
<rect x="86" y="1128.86" width="53.95" height="23.96" fill="#6e96c4"/>
<rect x="139.35" y="1128.86" width="53.95" height="23.96" fill="#6e96c4"/>
<rect x="192.7" y="1128.86" width="53.95" height="23.96" fill="#e6f6f8"/>
<rect x="246.05" y="1128.86" width="53.95" height="23.96" fill="#aac8e0"/>
<rect x="299.4" y="1128.86" width="53.95" height="23.96" fill="#f2f8ee"/>
<rect x="352.75" y="1128.86" width="53.95" height="23.96" fill="#f2f8ee"/>
<rect x="406.1" y="1128.86" width="53.95" height="23.96" fill="#ecca8a"/>
<rect x="459.45" y="1128.86" width="53.95" height="23.96" fill="#ecca8a"/>
<rect x="512.8" y="1128.86" width="53.95" height="23.96" fill="#b0cde2"/>
<rect x="566.15" y="1128.86" width="53.95" height="23.96" fill="#efe0b8"/>
<rect x="619.5" y="1128.86" width="53.95" height="23.96" fill="#ebc07c"/>
<rect x="672.85" y="1128.86" width="53.95" height="23.96" fill="#6a94c2"/>
<rect x="86" y="1152.22" width="53.95" height="23.96" fill="#94b6d4"/>
<rect x="139.35" y="1152.22" width="53.95" height="23.96" fill="#7a9fca"/>
<rect x="192.7" y="1152.22" width="53.95" height="23.96" fill="#dcf0f5"/>
<rect x="246.05" y="1152.22" width="53.95" height="23.96" fill="#f4fefa"/>
<rect x="299.4" y="1152.22" width="53.95" height="23.96" fill="#98b8d6"/>
<rect x="352.75" y="1152.22" width="53.95" height="23.96" fill="#a0c0da"/>
<rect x="406.1" y="1152.22" width="53.95" height="23.96" fill="#e6a670"/>
<rect x="459.45" y="1152.22" width="53.95" height="23.96" fill="#e6a670"/>
<rect x="512.8" y="1152.22" width="53.95" height="23.96" fill="#eed6a2"/>
<rect x="566.15" y="1152.22" width="53.95" height="23.96" fill="#efe0b8"/>
<rect x="619.5" y="1152.22" width="53.95" height="23.96" fill="#a6c4dc"/>
<rect x="672.85" y="1152.22" width="53.95" height="23.96" fill="#a8c6de"/>
<rect x="86" y="1175.58" width="53.95" height="23.96" fill="#f0f4e4"/>
<rect x="139.35" y="1175.58" width="53.95" height="23.96" fill="#8cb0d2"/>
<rect x="192.7" y="1175.58" width="53.95" height="23.96" fill="#d83e30"/>
<rect x="246.05" y="1175.58" width="53.95" height="23.96" fill="#8cb0d2"/>
<rect x="299.4" y="1175.58" width="53.95" height="23.96" fill="#bcd7e8"/>
<rect x="352.75" y="1175.58" width="53.95" height="23.96" fill="#f0e8c8"/>
<rect x="406.1" y="1175.58" width="53.95" height="23.96" fill="#f2fcf6"/>
<rect x="459.45" y="1175.58" width="53.95" height="23.96" fill="#bcd7e8"/>
<rect x="512.8" y="1175.58" width="53.95" height="23.96" fill="#cce3ee"/>
<rect x="566.15" y="1175.58" width="53.95" height="23.96" fill="#a2c2dc"/>
<rect x="619.5" y="1175.58" width="53.95" height="23.96" fill="#f0e8c8"/>
<rect x="672.85" y="1175.58" width="53.95" height="23.96" fill="#d2e8f0"/>
<rect x="86" y="1198.94" width="53.95" height="23.96" fill="#ecce94"/>
<rect x="139.35" y="1198.94" width="53.95" height="23.96" fill="#ecce94"/>
<rect x="192.7" y="1198.94" width="53.95" height="23.96" fill="#f2fefa"/>
<rect x="246.05" y="1198.94" width="53.95" height="23.96" fill="#ecfcfc"/>
<rect x="299.4" y="1198.94" width="53.95" height="23.96" fill="#f0e8c8"/>
<rect x="352.75" y="1198.94" width="53.95" height="23.96" fill="#efe2bc"/>
<rect x="406.1" y="1198.94" width="53.95" height="23.96" fill="#5e88be"/>
<rect x="459.45" y="1198.94" width="53.95" height="23.96" fill="#8cb0d2"/>
<rect x="512.8" y="1198.94" width="53.95" height="23.96" fill="#84a8ce"/>
<rect x="566.15" y="1198.94" width="53.95" height="23.96" fill="#6890c2"/>
<rect x="619.5" y="1198.94" width="53.95" height="23.96" fill="#bcd7e8"/>
<rect x="672.85" y="1198.94" width="53.95" height="23.96" fill="#ecc484"/>
<text x="735.4" y="772.1" font-size="24.6" text-anchor="start">Fcnb</text>
<text x="735.4" y="795.5" font-size="24.6" text-anchor="start">Ly6c2</text>
<text x="735.4" y="820.3" font-size="24.6" text-anchor="start">Ly6c1</text>
<text x="735.4" y="843.1" font-size="24.6" text-anchor="start">Itgam</text>
<text x="735.4" y="867.9" font-size="24.6" text-anchor="start">Csf3r</text>
<text x="735.4" y="891.4" font-size="24.6" text-anchor="start">Fcgr3</text>
<text x="735.4" y="914.8" font-size="24.6" text-anchor="start">Ly6g</text>
<text x="735.4" y="938.3" font-size="24.6" text-anchor="start">Itgax</text>
<text x="735.4" y="963.1" font-size="24.6" text-anchor="start">Slc40a1</text>
<text x="735.4" y="985.9" font-size="24.6" text-anchor="start">Folr2</text>
<text x="735.4" y="1008.2" font-size="24.6" text-anchor="start">Ms4a6d</text>
<text x="735.4" y="1032.2" font-size="24.6" text-anchor="start">F13a1</text>
<text x="735.4" y="1055" font-size="24.6" text-anchor="start">Stab1</text>
<text x="735.4" y="1078" font-size="24.6" text-anchor="start">Siglec1</text>
<text x="735.4" y="1101.9" font-size="24.6" text-anchor="start">Abcg1</text>
<text x="735.4" y="1125.1" font-size="24.6" text-anchor="start">Fabp4</text>
<text x="735.4" y="1148.8" font-size="24.6" text-anchor="start">Pparg</text>
<text x="735.4" y="1171.6" font-size="24.6" text-anchor="start">Marco</text>
<text x="735.4" y="1195.6" font-size="24.6" text-anchor="start">Cd5l</text>
<text x="735.4" y="1219.5" font-size="24.6" text-anchor="start">Cyp27a1</text>
<rect x="16.4" y="1087.1" width="14.7" height="135.9" fill="url(#cb)"/>
<text x="62.8" y="1115.9" font-size="28.5" text-anchor="end">2</text>
<text x="62.8" y="1164.3" font-size="28.5" text-anchor="end">0</text>
<text x="62.8" y="1213.2" font-size="28.5" text-anchor="end">-2</text>
<line x1="845.3" y1="760.2" x2="845.3" y2="845.4" stroke="#111" stroke-width="2.2" stroke-linecap="butt"/>
<line x1="845.3" y1="852.9" x2="845.3" y2="938.5" stroke="#111" stroke-width="2.2" stroke-linecap="butt"/>
<line x1="845.3" y1="947.8" x2="845.3" y2="1054.7" stroke="#333" stroke-width="2.2" stroke-linecap="butt"/>
<line x1="845.3" y1="1066.4" x2="845.3" y2="1216.2" stroke="#444" stroke-width="2.2" stroke-linecap="butt"/>
<text x="925.9" y="793.8" font-size="24.7" text-anchor="middle">Inflammatory</text>
<text x="925.5" y="823" font-size="24.7" text-anchor="middle">monocyte</text>
<text x="925.9" y="907.4" font-size="24.7" text-anchor="middle">Neutrophil</text>
<text x="925.9" y="995" font-size="24.7" text-anchor="middle">Interstitial</text>
<text x="925.9" y="1024.1" font-size="24.7" text-anchor="middle">macrophage</text>
<text x="926.3" y="1137.7" font-size="24.7" text-anchor="middle">Alveolar</text>
<text x="925.9" y="1166.8" font-size="24.7" text-anchor="middle">macrophage</text>
<text x="1019" y="62.5" font-size="74" text-anchor="start">B</text>
<rect x="1355.8" y="60.1" width="21.7" height="21.6" fill="#5bbdee"/>
<text x="1408.4" y="79.6" font-size="28" text-anchor="start">Ctrl</text>
<rect x="1532" y="60.1" width="21.5" height="21.6" fill="#fd1e0e"/>
<text x="1583" y="79.6" font-size="27.6" text-anchor="start">Lysine</text>
<rect x="1173" y="393" width="23.9" height="44" fill="#5bbdee"/>
<line x1="1184.95" y1="390.1" x2="1184.95" y2="394.5" stroke="#000" stroke-width="5.0" stroke-linecap="butt"/>
<line x1="1176.95" y1="391.9" x2="1192.95" y2="391.9" stroke="#000" stroke-width="3.6" stroke-linecap="butt"/>
<rect x="1196.9" y="389.6" width="23.9" height="47.4" fill="#fd1e0e"/>
<line x1="1208.85" y1="383" x2="1208.85" y2="391.1" stroke="#000" stroke-width="5.0" stroke-linecap="butt"/>
<line x1="1200.85" y1="384.8" x2="1216.85" y2="384.8" stroke="#000" stroke-width="3.6" stroke-linecap="butt"/>
<rect x="1250.4" y="376.3" width="23.9" height="60.7" fill="#5bbdee"/>
<line x1="1262.35" y1="371" x2="1262.35" y2="377.8" stroke="#000" stroke-width="5.0" stroke-linecap="butt"/>
<line x1="1254.35" y1="372.8" x2="1270.35" y2="372.8" stroke="#000" stroke-width="3.6" stroke-linecap="butt"/>
<rect x="1274.3" y="372.7" width="23.9" height="64.3" fill="#fd1e0e"/>
<line x1="1286.25" y1="370.6" x2="1286.25" y2="374.2" stroke="#000" stroke-width="5.0" stroke-linecap="butt"/>
<line x1="1278.25" y1="372.4" x2="1294.25" y2="372.4" stroke="#000" stroke-width="3.6" stroke-linecap="butt"/>
<rect x="1327.7" y="313.5" width="23.9" height="123.5" fill="#5bbdee"/>
<line x1="1339.65" y1="310" x2="1339.65" y2="315" stroke="#000" stroke-width="5.0" stroke-linecap="butt"/>
<line x1="1331.65" y1="311.8" x2="1347.65" y2="311.8" stroke="#000" stroke-width="3.6" stroke-linecap="butt"/>
<rect x="1351.6" y="335.9" width="23.9" height="101.1" fill="#fd1e0e"/>
<line x1="1363.55" y1="332.5" x2="1363.55" y2="337.4" stroke="#000" stroke-width="5.0" stroke-linecap="butt"/>
<line x1="1355.55" y1="334.3" x2="1371.55" y2="334.3" stroke="#000" stroke-width="3.6" stroke-linecap="butt"/>
<rect x="1403.9" y="235" width="23.9" height="202" fill="#5bbdee"/>
<line x1="1415.85" y1="184.3" x2="1415.85" y2="236.5" stroke="#000" stroke-width="5.0" stroke-linecap="butt"/>
<line x1="1407.85" y1="186.1" x2="1423.85" y2="186.1" stroke="#000" stroke-width="3.6" stroke-linecap="butt"/>
<rect x="1427.8" y="264.5" width="23.9" height="172.5" fill="#fd1e0e"/>
<line x1="1439.75" y1="214.7" x2="1439.75" y2="266" stroke="#000" stroke-width="5.0" stroke-linecap="butt"/>
<line x1="1431.75" y1="216.5" x2="1447.75" y2="216.5" stroke="#000" stroke-width="3.6" stroke-linecap="butt"/>
<line x1="1158.7" y1="137.5" x2="1158.7" y2="438.8" stroke="#000" stroke-width="4.8" stroke-linecap="butt"/>
<line x1="1149.2" y1="437" x2="1468.8" y2="437" stroke="#000" stroke-width="3.6" stroke-linecap="butt"/>
<line x1="1149.2" y1="172.8" x2="1158.7" y2="172.8" stroke="#000" stroke-width="3.4" stroke-linecap="butt"/>
<line x1="1149.2" y1="239" x2="1158.7" y2="239" stroke="#000" stroke-width="3.4" stroke-linecap="butt"/>
<line x1="1149.2" y1="305.2" x2="1158.7" y2="305.2" stroke="#000" stroke-width="3.4" stroke-linecap="butt"/>
<line x1="1149.2" y1="370.8" x2="1158.7" y2="370.8" stroke="#000" stroke-width="3.4" stroke-linecap="butt"/>
<line x1="1149.2" y1="437" x2="1158.7" y2="437" stroke="#000" stroke-width="3.4" stroke-linecap="butt"/>
<line x1="1149.2" y1="139.5" x2="1158.7" y2="139.5" stroke="#000" stroke-width="3.4" stroke-linecap="butt"/>
<line x1="1149.2" y1="206.9" x2="1158.7" y2="206.9" stroke="#000" stroke-width="3.4" stroke-linecap="butt"/>
<line x1="1149.2" y1="273" x2="1158.7" y2="273" stroke="#000" stroke-width="3.4" stroke-linecap="butt"/>
<line x1="1149.2" y1="338.5" x2="1158.7" y2="338.5" stroke="#000" stroke-width="3.4" stroke-linecap="butt"/>
<line x1="1149.2" y1="404" x2="1158.7" y2="404" stroke="#000" stroke-width="3.4" stroke-linecap="butt"/>
<line x1="1235.2" y1="429.5" x2="1235.2" y2="437" stroke="#000" stroke-width="4.2" stroke-linecap="butt"/>
<line x1="1312.1" y1="429.5" x2="1312.1" y2="437" stroke="#000" stroke-width="4.2" stroke-linecap="butt"/>
<line x1="1388.9" y1="429.5" x2="1388.9" y2="437" stroke="#000" stroke-width="4.2" stroke-linecap="butt"/>
<line x1="1466.6" y1="429.5" x2="1466.6" y2="437" stroke="#000" stroke-width="4.2" stroke-linecap="butt"/>
<text x="1142.6" y="178.6" font-size="27" text-anchor="end">0.0004</text>
<text x="1142.6" y="243.6" font-size="27" text-anchor="end">0.0003</text>
<text x="1142.6" y="309.6" font-size="27" text-anchor="end">0.0002</text>
<text x="1142.6" y="374.9" font-size="27" text-anchor="end">0.0001</text>
<text x="1142.6" y="447.3" font-size="27" text-anchor="end">0</text>
<text x="1195.1" y="469.3" font-size="27" text-anchor="middle">0</text>
<text x="1261.6" y="469.3" font-size="27" text-anchor="middle">200</text>
<text x="1339.2" y="469.3" font-size="27" text-anchor="middle">400</text>
<text x="1417.4" y="469.3" font-size="27" text-anchor="middle">800</text>
<text x="1310" y="506.9" font-size="27" text-anchor="middle">PQ (μM)</text>
<text x="1304.3" y="137.9" font-size="26.5" text-anchor="middle" font-style="italic">IL-1b</text>
<text transform="translate(1045.9,292.6) rotate(-90)" font-size="27" text-anchor="middle">Rel Expr</text>
<rect x="1644.7" y="403.3" width="23.9" height="33.1" fill="#5bbdee"/>
<line x1="1656.65" y1="399.1" x2="1656.65" y2="404.8" stroke="#000" stroke-width="5.0" stroke-linecap="butt"/>
<line x1="1648.65" y1="400.9" x2="1664.65" y2="400.9" stroke="#000" stroke-width="3.6" stroke-linecap="butt"/>
<rect x="1668.6" y="405.6" width="23.9" height="30.8" fill="#fd1e0e"/>
<line x1="1680.55" y1="399.6" x2="1680.55" y2="407.1" stroke="#000" stroke-width="5.0" stroke-linecap="butt"/>
<line x1="1672.55" y1="401.4" x2="1688.55" y2="401.4" stroke="#000" stroke-width="3.6" stroke-linecap="butt"/>
<rect x="1720.6" y="395.3" width="23.9" height="41.1" fill="#5bbdee"/>
<line x1="1732.55" y1="392.1" x2="1732.55" y2="396.8" stroke="#000" stroke-width="5.0" stroke-linecap="butt"/>
<line x1="1724.55" y1="393.9" x2="1740.55" y2="393.9" stroke="#000" stroke-width="3.6" stroke-linecap="butt"/>
<rect x="1744.5" y="397" width="23.9" height="39.4" fill="#fd1e0e"/>
<line x1="1756.45" y1="392.8" x2="1756.45" y2="398.5" stroke="#000" stroke-width="5.0" stroke-linecap="butt"/>
<line x1="1748.45" y1="394.6" x2="1764.45" y2="394.6" stroke="#000" stroke-width="3.6" stroke-linecap="butt"/>
<rect x="1797.9" y="352" width="23.9" height="84.4" fill="#5bbdee"/>
<line x1="1809.85" y1="346.2" x2="1809.85" y2="353.5" stroke="#000" stroke-width="5.0" stroke-linecap="butt"/>
<line x1="1801.85" y1="348" x2="1817.85" y2="348" stroke="#000" stroke-width="3.6" stroke-linecap="butt"/>
<rect x="1821.8" y="370.5" width="23.9" height="65.9" fill="#fd1e0e"/>
<line x1="1833.75" y1="367.8" x2="1833.75" y2="372" stroke="#000" stroke-width="5.0" stroke-linecap="butt"/>
<line x1="1825.75" y1="369.6" x2="1841.75" y2="369.6" stroke="#000" stroke-width="3.6" stroke-linecap="butt"/>
<rect x="1874.2" y="207.7" width="23.9" height="228.7" fill="#5bbdee"/>
<line x1="1886.15" y1="199.1" x2="1886.15" y2="209.2" stroke="#000" stroke-width="5.0" stroke-linecap="butt"/>
<line x1="1878.15" y1="200.9" x2="1894.15" y2="200.9" stroke="#000" stroke-width="3.6" stroke-linecap="butt"/>
<rect x="1898.1" y="206.2" width="23.9" height="230.2" fill="#fd1e0e"/>
<line x1="1910.05" y1="185" x2="1910.05" y2="207.7" stroke="#000" stroke-width="5.0" stroke-linecap="butt"/>
<line x1="1902.05" y1="186.8" x2="1918.05" y2="186.8" stroke="#000" stroke-width="3.6" stroke-linecap="butt"/>
<line x1="1630.6" y1="138.3" x2="1630.6" y2="438.2" stroke="#000" stroke-width="4.8" stroke-linecap="butt"/>
<line x1="1621.7" y1="436.4" x2="1939.3" y2="436.4" stroke="#000" stroke-width="3.6" stroke-linecap="butt"/>
<line x1="1621.7" y1="139.8" x2="1630.6" y2="139.8" stroke="#000" stroke-width="3.4" stroke-linecap="butt"/>
<line x1="1621.7" y1="238.5" x2="1630.6" y2="238.5" stroke="#000" stroke-width="3.4" stroke-linecap="butt"/>
<line x1="1621.7" y1="337.5" x2="1630.6" y2="337.5" stroke="#000" stroke-width="3.4" stroke-linecap="butt"/>
<line x1="1621.7" y1="436.4" x2="1630.6" y2="436.4" stroke="#000" stroke-width="3.4" stroke-linecap="butt"/>
<line x1="1621.7" y1="189.9" x2="1630.6" y2="189.9" stroke="#000" stroke-width="3.4" stroke-linecap="butt"/>
<line x1="1621.7" y1="287.6" x2="1630.6" y2="287.6" stroke="#000" stroke-width="3.4" stroke-linecap="butt"/>
<line x1="1621.7" y1="386.7" x2="1630.6" y2="386.7" stroke="#000" stroke-width="3.4" stroke-linecap="butt"/>
<line x1="1706.5" y1="428.9" x2="1706.5" y2="436.4" stroke="#000" stroke-width="4.2" stroke-linecap="butt"/>
<line x1="1783.8" y1="428.9" x2="1783.8" y2="436.4" stroke="#000" stroke-width="4.2" stroke-linecap="butt"/>
<line x1="1860.3" y1="428.9" x2="1860.3" y2="436.4" stroke="#000" stroke-width="4.2" stroke-linecap="butt"/>
<line x1="1936.9" y1="428.9" x2="1936.9" y2="436.4" stroke="#000" stroke-width="4.2" stroke-linecap="butt"/>
<text x="1610.1" y="148.4" font-size="27" text-anchor="end">0.0006</text>
<text x="1610.1" y="248.6" font-size="27" text-anchor="end">0.0004</text>
<text x="1610.1" y="347.6" font-size="27" text-anchor="end">0.0002</text>
<text x="1610.1" y="440.5" font-size="27" text-anchor="end">0</text>
<text x="1668.1" y="469.6" font-size="27" text-anchor="middle">0</text>
<text x="1734.2" y="469.6" font-size="27" text-anchor="middle">200</text>
<text x="1812.4" y="469.6" font-size="27" text-anchor="middle">400</text>
<text x="1890.6" y="469.6" font-size="27" text-anchor="middle">800</text>
<text x="1783.2" y="506.8" font-size="27" text-anchor="middle">PQ (μM)</text>
<text x="1777.1" y="138.9" font-size="26.5" text-anchor="middle" font-style="italic">IL-6</text>
<text transform="translate(1512.5,287.7) rotate(-90)" font-size="27" text-anchor="middle">Rel Expr</text>
<rect x="1179.3" y="807.3" width="23.9" height="66.3" fill="#5bbdee"/>
<line x1="1191.25" y1="787.9" x2="1191.25" y2="808.8" stroke="#000" stroke-width="5.0" stroke-linecap="butt"/>
<line x1="1183.25" y1="789.7" x2="1199.25" y2="789.7" stroke="#000" stroke-width="3.6" stroke-linecap="butt"/>
<rect x="1203.2" y="801.2" width="23.9" height="72.4" fill="#fd1e0e"/>
<line x1="1215.15" y1="792" x2="1215.15" y2="802.7" stroke="#000" stroke-width="5.0" stroke-linecap="butt"/>
<line x1="1207.15" y1="793.8" x2="1223.15" y2="793.8" stroke="#000" stroke-width="3.6" stroke-linecap="butt"/>
<rect x="1255.9" y="795.2" width="23.9" height="78.4" fill="#5bbdee"/>
<line x1="1267.85" y1="781.8" x2="1267.85" y2="796.7" stroke="#000" stroke-width="5.0" stroke-linecap="butt"/>
<line x1="1259.85" y1="783.6" x2="1275.85" y2="783.6" stroke="#000" stroke-width="3.6" stroke-linecap="butt"/>
<rect x="1279.8" y="775" width="23.9" height="98.6" fill="#fd1e0e"/>
<line x1="1291.75" y1="759.9" x2="1291.75" y2="776.5" stroke="#000" stroke-width="5.0" stroke-linecap="butt"/>
<line x1="1283.75" y1="761.7" x2="1299.75" y2="761.7" stroke="#000" stroke-width="3.6" stroke-linecap="butt"/>
<rect x="1333.4" y="785.9" width="23.9" height="87.7" fill="#5bbdee"/>
<line x1="1345.35" y1="780.6" x2="1345.35" y2="787.4" stroke="#000" stroke-width="5.0" stroke-linecap="butt"/>
<line x1="1337.35" y1="782.4" x2="1353.35" y2="782.4" stroke="#000" stroke-width="3.6" stroke-linecap="butt"/>
<rect x="1357.3" y="789.1" width="23.9" height="84.5" fill="#fd1e0e"/>
<line x1="1369.25" y1="778.1" x2="1369.25" y2="790.6" stroke="#000" stroke-width="5.0" stroke-linecap="butt"/>
<line x1="1361.25" y1="779.9" x2="1377.25" y2="779.9" stroke="#000" stroke-width="3.6" stroke-linecap="butt"/>
<rect x="1410.2" y="743.4" width="23.9" height="130.2" fill="#5bbdee"/>
<line x1="1422.15" y1="733.7" x2="1422.15" y2="744.9" stroke="#000" stroke-width="5.0" stroke-linecap="butt"/>
<line x1="1414.15" y1="735.5" x2="1430.15" y2="735.5" stroke="#000" stroke-width="3.6" stroke-linecap="butt"/>
<rect x="1434.1" y="615.3" width="23.9" height="258.3" fill="#fd1e0e"/>
<line x1="1446.05" y1="608" x2="1446.05" y2="616.8" stroke="#000" stroke-width="5.0" stroke-linecap="butt"/>
<line x1="1438.05" y1="609.8" x2="1454.05" y2="609.8" stroke="#000" stroke-width="3.6" stroke-linecap="butt"/>
<line x1="1166" y1="576.2" x2="1166" y2="875.4" stroke="#000" stroke-width="4.8" stroke-linecap="butt"/>
<line x1="1156.7" y1="873.6" x2="1473.9" y2="873.6" stroke="#000" stroke-width="3.6" stroke-linecap="butt"/>
<line x1="1156.7" y1="607.2" x2="1166" y2="607.2" stroke="#000" stroke-width="3.4" stroke-linecap="butt"/>
<line x1="1156.7" y1="697.2" x2="1166" y2="697.2" stroke="#000" stroke-width="3.4" stroke-linecap="butt"/>
<line x1="1156.7" y1="785.2" x2="1166" y2="785.2" stroke="#000" stroke-width="3.4" stroke-linecap="butt"/>
<line x1="1156.7" y1="873.6" x2="1166" y2="873.6" stroke="#000" stroke-width="3.4" stroke-linecap="butt"/>
<line x1="1156.7" y1="578.2" x2="1166" y2="578.2" stroke="#000" stroke-width="3.4" stroke-linecap="butt"/>
<line x1="1156.7" y1="637.2" x2="1166" y2="637.2" stroke="#000" stroke-width="3.4" stroke-linecap="butt"/>
<line x1="1156.7" y1="666.4" x2="1166" y2="666.4" stroke="#000" stroke-width="3.4" stroke-linecap="butt"/>
<line x1="1156.7" y1="725.9" x2="1166" y2="725.9" stroke="#000" stroke-width="3.4" stroke-linecap="butt"/>
<line x1="1156.7" y1="755" x2="1166" y2="755" stroke="#000" stroke-width="3.4" stroke-linecap="butt"/>
<line x1="1156.7" y1="814.1" x2="1166" y2="814.1" stroke="#000" stroke-width="3.4" stroke-linecap="butt"/>
<line x1="1156.7" y1="843.8" x2="1166" y2="843.8" stroke="#000" stroke-width="3.4" stroke-linecap="butt"/>
<line x1="1241.3" y1="866.1" x2="1241.3" y2="873.6" stroke="#000" stroke-width="4.2" stroke-linecap="butt"/>
<line x1="1319.1" y1="866.1" x2="1319.1" y2="873.6" stroke="#000" stroke-width="4.2" stroke-linecap="butt"/>
<line x1="1395.6" y1="866.1" x2="1395.6" y2="873.6" stroke="#000" stroke-width="4.2" stroke-linecap="butt"/>
<line x1="1472.2" y1="866.1" x2="1472.2" y2="873.6" stroke="#000" stroke-width="4.2" stroke-linecap="butt"/>
<text x="1144.6" y="620.7" font-size="27" text-anchor="end">0.00009</text>
<text x="1144.6" y="708.1" font-size="27" text-anchor="end">0.00006</text>
<text x="1144.6" y="796" font-size="27" text-anchor="end">0.00003</text>
<text x="1144.6" y="878" font-size="27" text-anchor="end">0</text>
<text x="1201.9" y="906.9" font-size="27" text-anchor="middle">0</text>
<text x="1268" y="906.9" font-size="27" text-anchor="middle">200</text>
<text x="1346.2" y="906.9" font-size="27" text-anchor="middle">400</text>
<text x="1424" y="906.9" font-size="27" text-anchor="middle">800</text>
<text x="1317" y="938.8" font-size="27" text-anchor="middle">PQ (μM)</text>
<text x="1312.9" y="577.7" font-size="26.5" text-anchor="middle" font-style="italic">TNF</text>
<text transform="translate(1031.3,728.3) rotate(-90)" font-size="27" text-anchor="middle">Rel Expr</text>
<rect x="1644.3" y="708.9" width="23.9" height="159.2" fill="#5bbdee"/>
<line x1="1656.25" y1="698" x2="1656.25" y2="710.4" stroke="#000" stroke-width="5.0" stroke-linecap="butt"/>
<line x1="1648.25" y1="699.8" x2="1664.25" y2="699.8" stroke="#000" stroke-width="3.6" stroke-linecap="butt"/>
<rect x="1668.2" y="703.5" width="23.9" height="164.6" fill="#fd1e0e"/>
<line x1="1680.15" y1="701.6" x2="1680.15" y2="705" stroke="#000" stroke-width="5.0" stroke-linecap="butt"/>
<line x1="1672.15" y1="703.4" x2="1688.15" y2="703.4" stroke="#000" stroke-width="3.6" stroke-linecap="butt"/>
<rect x="1721.8" y="675.6" width="23.9" height="192.5" fill="#5bbdee"/>
<line x1="1733.75" y1="673.7" x2="1733.75" y2="677.1" stroke="#000" stroke-width="5.0" stroke-linecap="butt"/>
<line x1="1725.75" y1="675.5" x2="1741.75" y2="675.5" stroke="#000" stroke-width="3.6" stroke-linecap="butt"/>
<rect x="1745.7" y="663.2" width="23.9" height="204.9" fill="#fd1e0e"/>
<line x1="1757.65" y1="657.4" x2="1757.65" y2="664.7" stroke="#000" stroke-width="5.0" stroke-linecap="butt"/>
<line x1="1749.65" y1="659.2" x2="1765.65" y2="659.2" stroke="#000" stroke-width="3.6" stroke-linecap="butt"/>
<rect x="1798.8" y="651.8" width="23.9" height="216.3" fill="#5bbdee"/>
<line x1="1810.75" y1="644.5" x2="1810.75" y2="653.3" stroke="#000" stroke-width="5.0" stroke-linecap="butt"/>
<line x1="1802.75" y1="646.3" x2="1818.75" y2="646.3" stroke="#000" stroke-width="3.6" stroke-linecap="butt"/>
<rect x="1822.7" y="646.2" width="23.9" height="221.9" fill="#fd1e0e"/>
<line x1="1834.65" y1="636.7" x2="1834.65" y2="647.7" stroke="#000" stroke-width="5.0" stroke-linecap="butt"/>
<line x1="1826.65" y1="638.5" x2="1842.65" y2="638.5" stroke="#000" stroke-width="3.6" stroke-linecap="butt"/>
<rect x="1876.1" y="719.3" width="23.9" height="148.8" fill="#5bbdee"/>
<line x1="1888.05" y1="713.8" x2="1888.05" y2="720.8" stroke="#000" stroke-width="5.0" stroke-linecap="butt"/>
<line x1="1880.05" y1="715.6" x2="1896.05" y2="715.6" stroke="#000" stroke-width="3.6" stroke-linecap="butt"/>
<rect x="1900" y="694.3" width="23.9" height="173.8" fill="#fd1e0e"/>
<line x1="1911.95" y1="691.2" x2="1911.95" y2="695.8" stroke="#000" stroke-width="5.0" stroke-linecap="butt"/>
<line x1="1903.95" y1="693" x2="1919.95" y2="693" stroke="#000" stroke-width="3.6" stroke-linecap="butt"/>
<line x1="1630.7" y1="571.3" x2="1630.7" y2="869.9" stroke="#000" stroke-width="4.8" stroke-linecap="butt"/>
<line x1="1622.2" y1="868.1" x2="1940.5" y2="868.1" stroke="#000" stroke-width="3.6" stroke-linecap="butt"/>
<line x1="1622.2" y1="631.9" x2="1630.7" y2="631.9" stroke="#000" stroke-width="3.4" stroke-linecap="butt"/>
<line x1="1622.2" y1="750" x2="1630.7" y2="750" stroke="#000" stroke-width="3.4" stroke-linecap="butt"/>
<line x1="1622.2" y1="868.1" x2="1630.7" y2="868.1" stroke="#000" stroke-width="3.4" stroke-linecap="butt"/>
<line x1="1622.2" y1="573.3" x2="1630.7" y2="573.3" stroke="#000" stroke-width="3.4" stroke-linecap="butt"/>
<line x1="1622.2" y1="691.2" x2="1630.7" y2="691.2" stroke="#000" stroke-width="3.4" stroke-linecap="butt"/>
<line x1="1622.2" y1="809" x2="1630.7" y2="809" stroke="#000" stroke-width="3.4" stroke-linecap="butt"/>
<line x1="1706.5" y1="860.6" x2="1706.5" y2="868.1" stroke="#000" stroke-width="4.2" stroke-linecap="butt"/>
<line x1="1783.8" y1="860.6" x2="1783.8" y2="868.1" stroke="#000" stroke-width="4.2" stroke-linecap="butt"/>
<line x1="1861.5" y1="860.6" x2="1861.5" y2="868.1" stroke="#000" stroke-width="4.2" stroke-linecap="butt"/>
<line x1="1938.8" y1="860.6" x2="1938.8" y2="868.1" stroke="#000" stroke-width="4.2" stroke-linecap="butt"/>
<text x="1607" y="641.4" font-size="27" text-anchor="end">0.02</text>
<text x="1607" y="757.8" font-size="27" text-anchor="end">0.01</text>
<text x="1607" y="873.3" font-size="27" text-anchor="end">0</text>
<text x="1666.7" y="901.1" font-size="27" text-anchor="middle">0</text>
<text x="1733.6" y="901.1" font-size="27" text-anchor="middle">200</text>
<text x="1811.6" y="901.1" font-size="27" text-anchor="middle">400</text>
<text x="1889.9" y="901.1" font-size="27" text-anchor="middle">800</text>
<text x="1782.6" y="933" font-size="27" text-anchor="middle">PQ (μM)</text>
<text x="1776.5" y="571.6" font-size="26.5" text-anchor="middle" font-style="italic">Ccl2</text>
<text transform="translate(1539.7,725.4) rotate(-90)" font-size="27" text-anchor="middle">Rel Expr</text>
<rect x="1645.2" y="1188.9" width="23.9" height="99.7" fill="#5bbdee"/>
<line x1="1657.15" y1="1180.7" x2="1657.15" y2="1190.4" stroke="#000" stroke-width="5.0" stroke-linecap="butt"/>
<line x1="1649.15" y1="1182.5" x2="1665.15" y2="1182.5" stroke="#000" stroke-width="3.6" stroke-linecap="butt"/>
<rect x="1669.1" y="1169.5" width="23.9" height="119.1" fill="#fd1e0e"/>
<line x1="1681.05" y1="1165.3" x2="1681.05" y2="1171" stroke="#000" stroke-width="5.0" stroke-linecap="butt"/>
<line x1="1673.05" y1="1167.1" x2="1689.05" y2="1167.1" stroke="#000" stroke-width="3.6" stroke-linecap="butt"/>
<rect x="1721.8" y="1136.9" width="23.9" height="151.7" fill="#5bbdee"/>
<line x1="1733.75" y1="1127.2" x2="1733.75" y2="1138.4" stroke="#000" stroke-width="5.0" stroke-linecap="butt"/>
<line x1="1725.75" y1="1129" x2="1741.75" y2="1129" stroke="#000" stroke-width="3.6" stroke-linecap="butt"/>
<rect x="1745.7" y="1102.9" width="23.9" height="185.7" fill="#fd1e0e"/>
<line x1="1757.65" y1="1100.9" x2="1757.65" y2="1104.4" stroke="#000" stroke-width="5.0" stroke-linecap="butt"/>
<line x1="1749.65" y1="1102.7" x2="1765.65" y2="1102.7" stroke="#000" stroke-width="3.6" stroke-linecap="butt"/>
<rect x="1799.1" y="1094.9" width="23.9" height="193.7" fill="#5bbdee"/>
<line x1="1811.05" y1="1085.9" x2="1811.05" y2="1096.4" stroke="#000" stroke-width="5.0" stroke-linecap="butt"/>
<line x1="1803.05" y1="1087.7" x2="1819.05" y2="1087.7" stroke="#000" stroke-width="3.6" stroke-linecap="butt"/>
<rect x="1823" y="1065.7" width="23.9" height="222.9" fill="#fd1e0e"/>
<line x1="1834.95" y1="1052.8" x2="1834.95" y2="1067.2" stroke="#000" stroke-width="5.0" stroke-linecap="butt"/>
<line x1="1826.95" y1="1054.6" x2="1842.95" y2="1054.6" stroke="#000" stroke-width="3.6" stroke-linecap="butt"/>
<rect x="1876.1" y="1074.2" width="23.9" height="214.4" fill="#5bbdee"/>
<line x1="1888.05" y1="1046.3" x2="1888.05" y2="1075.7" stroke="#000" stroke-width="5.0" stroke-linecap="butt"/>
<line x1="1880.05" y1="1048.1" x2="1896.05" y2="1048.1" stroke="#000" stroke-width="3.6" stroke-linecap="butt"/>
<rect x="1900" y="1073.5" width="23.9" height="215.1" fill="#fd1e0e"/>
<line x1="1911.95" y1="1057.9" x2="1911.95" y2="1075" stroke="#000" stroke-width="5.0" stroke-linecap="butt"/>
<line x1="1903.95" y1="1059.7" x2="1919.95" y2="1059.7" stroke="#000" stroke-width="3.6" stroke-linecap="butt"/>
<line x1="1630.2" y1="992" x2="1630.2" y2="1290.4" stroke="#000" stroke-width="4.8" stroke-linecap="butt"/>
<line x1="1622.2" y1="1288.6" x2="1939.3" y2="1288.6" stroke="#000" stroke-width="3.6" stroke-linecap="butt"/>
<line x1="1622.2" y1="1035.9" x2="1630.2" y2="1035.9" stroke="#000" stroke-width="3.4" stroke-linecap="butt"/>
<line x1="1622.2" y1="1120.9" x2="1630.2" y2="1120.9" stroke="#000" stroke-width="3.4" stroke-linecap="butt"/>
<line x1="1622.2" y1="1204" x2="1630.2" y2="1204" stroke="#000" stroke-width="3.4" stroke-linecap="butt"/>
<line x1="1622.2" y1="1288.6" x2="1630.2" y2="1288.6" stroke="#000" stroke-width="3.4" stroke-linecap="butt"/>
<line x1="1622.2" y1="994" x2="1630.2" y2="994" stroke="#000" stroke-width="3.4" stroke-linecap="butt"/>
<line x1="1622.2" y1="1078.3" x2="1630.2" y2="1078.3" stroke="#000" stroke-width="3.4" stroke-linecap="butt"/>
<line x1="1622.2" y1="1162.9" x2="1630.2" y2="1162.9" stroke="#000" stroke-width="3.4" stroke-linecap="butt"/>
<line x1="1622.2" y1="1247.2" x2="1630.2" y2="1247.2" stroke="#000" stroke-width="3.4" stroke-linecap="butt"/>
<line x1="1707.2" y1="1281.1" x2="1707.2" y2="1288.6" stroke="#000" stroke-width="4.2" stroke-linecap="butt"/>
<line x1="1783.8" y1="1281.1" x2="1783.8" y2="1288.6" stroke="#000" stroke-width="4.2" stroke-linecap="butt"/>
<line x1="1861.5" y1="1281.1" x2="1861.5" y2="1288.6" stroke="#000" stroke-width="4.2" stroke-linecap="butt"/>
<line x1="1938" y1="1281.1" x2="1938" y2="1288.6" stroke="#000" stroke-width="4.2" stroke-linecap="butt"/>
<text x="1607.3" y="1045.3" font-size="27" text-anchor="end">0.3</text>
<text x="1607.3" y="1129.8" font-size="27" text-anchor="end">0.2</text>
<text x="1607.3" y="1215.2" font-size="27" text-anchor="end">0.1</text>
<text x="1607.3" y="1292.8" font-size="27" text-anchor="end">0</text>
<text x="1667.3" y="1322.2" font-size="27" text-anchor="middle">0</text>
<text x="1733.6" y="1322.2" font-size="27" text-anchor="middle">200</text>
<text x="1811.6" y="1322.2" font-size="27" text-anchor="middle">400</text>
<text x="1889.9" y="1322.2" font-size="27" text-anchor="middle">800</text>
<text x="1782.6" y="1356.1" font-size="27" text-anchor="middle">PQ (μM)</text>
<text x="1777.1" y="995.2" font-size="26.5" text-anchor="middle" font-style="italic">Cxcl5</text>
<text transform="translate(1552.4,1142.2) rotate(-90)" font-size="27" text-anchor="middle">Rel Expr</text>
<text x="1018.2" y="1014" font-size="74" text-anchor="start">D</text>
<line x1="1153.4" y1="1041.8" x2="1153.4" y2="1290.85" stroke="#000" stroke-width="3.5" stroke-linecap="butt"/>
<line x1="1145.4" y1="1289.2" x2="1522.5" y2="1289.2" stroke="#000" stroke-width="3.3" stroke-linecap="butt"/>
<line x1="1145.4" y1="1092.1" x2="1153.4" y2="1092.1" stroke="#000" stroke-width="3.2" stroke-linecap="butt"/>
<line x1="1145.4" y1="1190.7" x2="1153.4" y2="1190.7" stroke="#000" stroke-width="3.2" stroke-linecap="butt"/>
<line x1="1145.4" y1="1289.2" x2="1153.4" y2="1289.2" stroke="#000" stroke-width="3.2" stroke-linecap="butt"/>
<line x1="1145.4" y1="1043.3" x2="1153.4" y2="1043.3" stroke="#000" stroke-width="3.2" stroke-linecap="butt"/>
<line x1="1145.4" y1="1141" x2="1153.4" y2="1141" stroke="#000" stroke-width="3.2" stroke-linecap="butt"/>
<line x1="1145.4" y1="1239.7" x2="1153.4" y2="1239.7" stroke="#000" stroke-width="3.2" stroke-linecap="butt"/>
<line x1="1245.6" y1="1289.2" x2="1245.6" y2="1299.7" stroke="#000" stroke-width="3.8" stroke-linecap="butt"/>
<line x1="1430" y1="1289.2" x2="1430" y2="1299.7" stroke="#000" stroke-width="3.8" stroke-linecap="butt"/>
<text x="1134.2" y="1103.1" font-size="27" text-anchor="end">400</text>
<text x="1134.2" y="1200.3" font-size="27" text-anchor="end">200</text>
<text x="1134.2" y="1294.1" font-size="27" text-anchor="end">0</text>
<text x="1231.5" y="1336.5" font-size="27.2" text-anchor="middle">PQ</text>
<text x="1401.4" y="1336.5" font-size="27.2" text-anchor="middle">PQ+Lysine</text>
<line x1="1238.3" y1="1039.6" x2="1431" y2="1039.6" stroke="#000" stroke-width="2.3" stroke-linecap="butt"/>
<text x="1338.15" y="1020" font-size="24" text-anchor="middle" letter-spacing="1.5">**</text>
<line x1="1183.5" y1="1113.3" x2="1307.5" y2="1113.3" stroke="#000" stroke-width="2.4" stroke-linecap="round"/>
<line x1="1245.5" y1="1078.4" x2="1245.5" y2="1148" stroke="#000" stroke-width="3.2" stroke-linecap="butt"/>
<line x1="1213.8" y1="1078.4" x2="1277.2" y2="1078.4" stroke="#000" stroke-width="3.6" stroke-linecap="round"/>
<line x1="1213.8" y1="1148" x2="1277.2" y2="1148" stroke="#000" stroke-width="3.6" stroke-linecap="round"/>
<circle cx="1245.5" cy="1080.5" r="5.1" fill="#000"/>
<circle cx="1230.8" cy="1091.9" r="5.1" fill="#000"/>
<circle cx="1245.5" cy="1098.7" r="5.1" fill="#000"/>
<circle cx="1260.5" cy="1096.8" r="5.1" fill="#000"/>
<circle cx="1245.5" cy="1143" r="5.1" fill="#000"/>
<circle cx="1245.5" cy="1169.9" r="5.1" fill="#000"/>
<line x1="1368.1" y1="1239.2" x2="1492.4" y2="1239.2" stroke="#000" stroke-width="2.4" stroke-linecap="round"/>
<line x1="1430" y1="1199.2" x2="1430" y2="1279.7" stroke="#000" stroke-width="3.2" stroke-linecap="butt"/>
<line x1="1398.4" y1="1199.2" x2="1462.1" y2="1199.2" stroke="#000" stroke-width="3.6" stroke-linecap="round"/>
<line x1="1398.4" y1="1279.7" x2="1462.1" y2="1279.7" stroke="#000" stroke-width="3.6" stroke-linecap="round"/>
<rect x="1425" y="1159.6" width="10" height="10" fill="#000"/>
<rect x="1425" y="1224.6" width="10" height="10" fill="#000"/>
<rect x="1410.2" y="1249.9" width="10" height="10" fill="#000"/>
<rect x="1425" y="1250.4" width="10" height="10" fill="#000"/>
<rect x="1440.1" y="1247.8" width="10" height="10" fill="#000"/>
<rect x="1425" y="1276" width="10" height="10" fill="#000"/>
<text transform="translate(1062,1176.4) rotate(-90)" font-size="27" text-anchor="middle">CRP (μg/ml)</text>
<line x1="128.1" y1="1436.7" x2="128.1" y2="1680.45" stroke="#000" stroke-width="3.6" stroke-linecap="butt"/>
<line x1="117.3" y1="1678.8" x2="490.6" y2="1678.8" stroke="#000" stroke-width="3.3" stroke-linecap="butt"/>
<line x1="117.3" y1="1486.6" x2="128.1" y2="1486.6" stroke="#000" stroke-width="3.2" stroke-linecap="butt"/>
<line x1="117.3" y1="1582.6" x2="128.1" y2="1582.6" stroke="#000" stroke-width="3.2" stroke-linecap="butt"/>
<line x1="117.3" y1="1678.8" x2="128.1" y2="1678.8" stroke="#000" stroke-width="3.2" stroke-linecap="butt"/>
<line x1="117.3" y1="1438.2" x2="128.1" y2="1438.2" stroke="#000" stroke-width="3.2" stroke-linecap="butt"/>
<line x1="117.3" y1="1534.4" x2="128.1" y2="1534.4" stroke="#000" stroke-width="3.2" stroke-linecap="butt"/>
<line x1="117.3" y1="1630.6" x2="128.1" y2="1630.6" stroke="#000" stroke-width="3.2" stroke-linecap="butt"/>
<line x1="231" y1="1678.8" x2="231" y2="1689.3" stroke="#000" stroke-width="3.8" stroke-linecap="butt"/>
<line x1="385.9" y1="1678.8" x2="385.9" y2="1689.3" stroke="#000" stroke-width="3.8" stroke-linecap="butt"/>
<text x="105.6" y="1495.7" font-size="27" text-anchor="end">2</text>
<text x="105.6" y="1591.9" font-size="27" text-anchor="end">1</text>
<text x="105.6" y="1688.9" font-size="27" text-anchor="end">0</text>
<text x="216.9" y="1730" font-size="27.2" text-anchor="middle">PQ</text>
<text x="371.7" y="1730" font-size="27.2" text-anchor="middle">PQ+Lysine</text>
<line x1="207.8" y1="1433" x2="401.3" y2="1433" stroke="#000" stroke-width="2.3" stroke-linecap="butt"/>
<text x="307.15" y="1413.8" font-size="24" text-anchor="middle" letter-spacing="1.5">**</text>
<line x1="180" y1="1494.7" x2="282.3" y2="1494.7" stroke="#000" stroke-width="2.4" stroke-linecap="round"/>
<line x1="231.1" y1="1463.5" x2="231.1" y2="1525.6" stroke="#000" stroke-width="2.4" stroke-linecap="butt"/>
<line x1="205.9" y1="1463.5" x2="257" y2="1463.5" stroke="#000" stroke-width="2.8" stroke-linecap="round"/>
<line x1="205.9" y1="1525.6" x2="257" y2="1525.6" stroke="#000" stroke-width="2.8" stroke-linecap="round"/>
<circle cx="212.2" cy="1484.6" r="5.1" fill="#000"/>
<circle cx="231.1" cy="1480.8" r="5.1" fill="#000"/>
<circle cx="231.1" cy="1491.4" r="5.1" fill="#000"/>
<circle cx="250.6" cy="1471.1" r="5.1" fill="#000"/>
<circle cx="250.6" cy="1482.6" r="5.1" fill="#000"/>
<circle cx="230.9" cy="1557" r="5.1" fill="#000"/>
<line x1="334.7" y1="1548.1" x2="437.2" y2="1548.1" stroke="#000" stroke-width="2.4" stroke-linecap="round"/>
<line x1="385.6" y1="1527.3" x2="385.6" y2="1568.6" stroke="#000" stroke-width="2.4" stroke-linecap="butt"/>
<line x1="360.8" y1="1527.3" x2="411.4" y2="1527.3" stroke="#000" stroke-width="2.8" stroke-linecap="round"/>
<line x1="360.8" y1="1568.6" x2="411.4" y2="1568.6" stroke="#000" stroke-width="2.8" stroke-linecap="round"/>
<rect x="380.6" y="1508.4" width="10" height="10" fill="#000"/>
<rect x="380.6" y="1530.7" width="10" height="10" fill="#000"/>
<rect x="380.6" y="1548.9" width="10" height="10" fill="#000"/>
<rect x="400.1" y="1545.9" width="10" height="10" fill="#000"/>
<rect x="361.3" y="1562.8" width="10" height="10" fill="#000"/>
<rect x="400.1" y="1561.1" width="10" height="10" fill="#000"/>
<text transform="translate(33.6,1560.3) rotate(-90)" font-size="27" text-anchor="middle">Monocytes</text>
<text transform="translate(67.8,1560.9) rotate(-90)" font-size="27" text-anchor="middle">( X 10<tspan font-size="17" dy="-9">9</tspan><tspan dy="9">/L)</tspan></text>
<line x1="613.5" y1="1434.6" x2="613.5" y2="1680.85" stroke="#000" stroke-width="3.6" stroke-linecap="butt"/>
<line x1="602.7" y1="1679.2" x2="979.9" y2="1679.2" stroke="#000" stroke-width="3.3" stroke-linecap="butt"/>
<line x1="602.7" y1="1436.1" x2="613.5" y2="1436.1" stroke="#000" stroke-width="3.2" stroke-linecap="butt"/>
<line x1="602.7" y1="1517.4" x2="613.5" y2="1517.4" stroke="#000" stroke-width="3.2" stroke-linecap="butt"/>
<line x1="602.7" y1="1597.9" x2="613.5" y2="1597.9" stroke="#000" stroke-width="3.2" stroke-linecap="butt"/>
<line x1="602.7" y1="1679.2" x2="613.5" y2="1679.2" stroke="#000" stroke-width="3.2" stroke-linecap="butt"/>
<line x1="717.8" y1="1679.2" x2="717.8" y2="1689.7" stroke="#000" stroke-width="3.8" stroke-linecap="butt"/>
<line x1="874.1" y1="1679.2" x2="874.1" y2="1689.7" stroke="#000" stroke-width="3.8" stroke-linecap="butt"/>
<text x="590.2" y="1445" font-size="27" text-anchor="end">15</text>
<text x="590.2" y="1527.5" font-size="27" text-anchor="end">10</text>
<text x="590.2" y="1602.7" font-size="27" text-anchor="end">5</text>
<text x="590.2" y="1688.5" font-size="27" text-anchor="end">0</text>
<text x="702.2" y="1730" font-size="27.2" text-anchor="middle">PQ</text>
<text x="857" y="1730" font-size="27.2" text-anchor="middle">PQ+Lysine</text>
<line x1="693.8" y1="1433" x2="887" y2="1433" stroke="#000" stroke-width="2.3" stroke-linecap="butt"/>
<text x="790.55" y="1413.8" font-size="24" text-anchor="middle" letter-spacing="1.5">***</text>
<line x1="666" y1="1498.2" x2="769.7" y2="1498.2" stroke="#000" stroke-width="2.4" stroke-linecap="round"/>
<line x1="717.8" y1="1482.3" x2="717.8" y2="1514.2" stroke="#000" stroke-width="2.4" stroke-linecap="butt"/>
<line x1="691.8" y1="1482.3" x2="743.7" y2="1482.3" stroke="#000" stroke-width="2.8" stroke-linecap="round"/>
<line x1="691.8" y1="1514.2" x2="743.7" y2="1514.2" stroke="#000" stroke-width="2.8" stroke-linecap="round"/>
<circle cx="717.8" cy="1473.7" r="5.1" fill="#000"/>
<circle cx="717.8" cy="1486.8" r="5.1" fill="#000"/>
<circle cx="698.1" cy="1501.3" r="5.1" fill="#000"/>
<circle cx="717.8" cy="1506.3" r="5.1" fill="#000"/>
<circle cx="737.3" cy="1502.8" r="5.1" fill="#000"/>
<circle cx="717.8" cy="1519.2" r="5.1" fill="#000"/>
<line x1="821.6" y1="1558.2" x2="926" y2="1558.2" stroke="#000" stroke-width="2.4" stroke-linecap="round"/>
<line x1="874.1" y1="1542.5" x2="874.1" y2="1574.2" stroke="#000" stroke-width="2.4" stroke-linecap="butt"/>
<line x1="847.7" y1="1542.5" x2="899.4" y2="1542.5" stroke="#000" stroke-width="2.8" stroke-linecap="round"/>
<line x1="847.7" y1="1574.2" x2="899.4" y2="1574.2" stroke="#000" stroke-width="2.8" stroke-linecap="round"/>
<rect x="869.1" y="1529.9" width="10" height="10" fill="#000"/>
<rect x="869.1" y="1544.6" width="10" height="10" fill="#000"/>
<rect x="849.1" y="1551.5" width="10" height="10" fill="#000"/>
<rect x="888.3" y="1552.7" width="10" height="10" fill="#000"/>
<rect x="849.1" y="1573" width="10" height="10" fill="#000"/>
<rect x="888.3" y="1569.2" width="10" height="10" fill="#000"/>
<text transform="translate(539.4,1556.2) rotate(-90)" font-size="27" text-anchor="middle">Monocytes (%)</text>
<line x1="1119" y1="1437" x2="1119" y2="1680.85" stroke="#000" stroke-width="3.6" stroke-linecap="butt"/>
<line x1="1108.3" y1="1679.2" x2="1478" y2="1679.2" stroke="#000" stroke-width="3.3" stroke-linecap="butt"/>
<line x1="1108.3" y1="1438.5" x2="1119" y2="1438.5" stroke="#000" stroke-width="3.2" stroke-linecap="butt"/>
<line x1="1108.3" y1="1518.2" x2="1119" y2="1518.2" stroke="#000" stroke-width="3.2" stroke-linecap="butt"/>
<line x1="1108.3" y1="1598.7" x2="1119" y2="1598.7" stroke="#000" stroke-width="3.2" stroke-linecap="butt"/>
<line x1="1108.3" y1="1679.2" x2="1119" y2="1679.2" stroke="#000" stroke-width="3.2" stroke-linecap="butt"/>
<line x1="1221.8" y1="1679.2" x2="1221.8" y2="1689.7" stroke="#000" stroke-width="3.8" stroke-linecap="butt"/>
<line x1="1376.3" y1="1679.2" x2="1376.3" y2="1689.7" stroke="#000" stroke-width="3.8" stroke-linecap="butt"/>
<text x="1097.5" y="1445.8" font-size="27" text-anchor="end">15</text>
<text x="1097.5" y="1529.1" font-size="27" text-anchor="end">10</text>
<text x="1097.5" y="1602.7" font-size="27" text-anchor="end">5</text>
<text x="1097.5" y="1684" font-size="27" text-anchor="end">0</text>
<text x="1222.4" y="1730" font-size="27.2" text-anchor="middle">PQ</text>
<text x="1376.3" y="1730" font-size="27.2" text-anchor="middle">PQ+Lysine</text>
<line x1="1171.2" y1="1522.3" x2="1273.7" y2="1522.3" stroke="#000" stroke-width="2.4" stroke-linecap="round"/>
<line x1="1222.3" y1="1482.5" x2="1222.3" y2="1561.5" stroke="#000" stroke-width="2.4" stroke-linecap="butt"/>
<line x1="1197.3" y1="1482.5" x2="1247.7" y2="1482.5" stroke="#000" stroke-width="2.8" stroke-linecap="round"/>
<line x1="1197.3" y1="1561.5" x2="1247.7" y2="1561.5" stroke="#000" stroke-width="2.8" stroke-linecap="round"/>
<circle cx="1202.8" cy="1481.3" r="5.1" fill="#000"/>
<circle cx="1241.6" cy="1481.3" r="5.1" fill="#000"/>
<circle cx="1202.8" cy="1516" r="5.1" fill="#000"/>
<circle cx="1241.6" cy="1521" r="5.1" fill="#000"/>
<circle cx="1222.3" cy="1551.4" r="5.1" fill="#000"/>
<circle cx="1222.3" cy="1581.8" r="5.1" fill="#000"/>
<line x1="1325.6" y1="1570.9" x2="1428.2" y2="1570.9" stroke="#000" stroke-width="2.4" stroke-linecap="round"/>
<line x1="1376.8" y1="1553.2" x2="1376.8" y2="1588.6" stroke="#000" stroke-width="2.4" stroke-linecap="butt"/>
<line x1="1351.5" y1="1553.2" x2="1402.3" y2="1553.2" stroke="#000" stroke-width="2.8" stroke-linecap="round"/>
<line x1="1351.5" y1="1588.6" x2="1402.3" y2="1588.6" stroke="#000" stroke-width="2.8" stroke-linecap="round"/>
<rect x="1371.8" y="1538.3" width="10" height="10" fill="#000"/>
<rect x="1391" y="1553.2" width="10" height="10" fill="#000"/>
<rect x="1352.8" y="1567.2" width="10" height="10" fill="#000"/>
<rect x="1391" y="1569.2" width="10" height="10" fill="#000"/>
<rect x="1391" y="1579.3" width="10" height="10" fill="#000"/>
<rect x="1352.8" y="1588.2" width="10" height="10" fill="#000"/>
<text transform="translate(1016.2,1549.5) rotate(-90)" font-size="27" text-anchor="middle">Neutrophils</text>
<text transform="translate(1049.1,1548.9) rotate(-90)" font-size="27" text-anchor="middle">( X 10<tspan font-size="17" dy="-9">9</tspan><tspan dy="9">/L)</tspan></text>
<line x1="1609" y1="1435.9" x2="1609" y2="1680.05" stroke="#000" stroke-width="3.6" stroke-linecap="butt"/>
<line x1="1599" y1="1678.4" x2="1971.2" y2="1678.4" stroke="#000" stroke-width="3.3" stroke-linecap="butt"/>
<line x1="1599" y1="1437.4" x2="1609" y2="1437.4" stroke="#000" stroke-width="3.2" stroke-linecap="butt"/>
<line x1="1599" y1="1558.1" x2="1609" y2="1558.1" stroke="#000" stroke-width="3.2" stroke-linecap="butt"/>
<line x1="1599" y1="1678.4" x2="1609" y2="1678.4" stroke="#000" stroke-width="3.2" stroke-linecap="butt"/>
<line x1="1599" y1="1497.7" x2="1609" y2="1497.7" stroke="#000" stroke-width="3.2" stroke-linecap="butt"/>
<line x1="1599" y1="1618" x2="1609" y2="1618" stroke="#000" stroke-width="3.2" stroke-linecap="butt"/>
<line x1="1711.7" y1="1678.4" x2="1711.7" y2="1688.9" stroke="#000" stroke-width="3.8" stroke-linecap="butt"/>
<line x1="1866.6" y1="1678.4" x2="1866.6" y2="1688.9" stroke="#000" stroke-width="3.8" stroke-linecap="butt"/>
<text x="1584.8" y="1448.7" font-size="27" text-anchor="end">80</text>
<text x="1584.8" y="1567.8" font-size="27" text-anchor="end">40</text>
<text x="1584.8" y="1683.2" font-size="27" text-anchor="end">0</text>
<text x="1712.7" y="1730" font-size="27.2" text-anchor="middle">PQ</text>
<text x="1867" y="1730" font-size="27.2" text-anchor="middle">PQ+Lysine</text>
<line x1="1687.7" y1="1433" x2="1880.1" y2="1433" stroke="#000" stroke-width="2.3" stroke-linecap="butt"/>
<text x="1783.75" y="1413.8" font-size="24" text-anchor="middle" letter-spacing="1.5">**</text>
<line x1="1661.1" y1="1508.4" x2="1763.6" y2="1508.4" stroke="#000" stroke-width="2.4" stroke-linecap="round"/>
<line x1="1712.2" y1="1488.9" x2="1712.2" y2="1528.6" stroke="#000" stroke-width="2.4" stroke-linecap="butt"/>
<line x1="1687.2" y1="1488.9" x2="1737.5" y2="1488.9" stroke="#000" stroke-width="2.8" stroke-linecap="round"/>
<line x1="1687.2" y1="1528.6" x2="1737.5" y2="1528.6" stroke="#000" stroke-width="2.8" stroke-linecap="round"/>
<circle cx="1732" cy="1483.5" r="5.1" fill="#000"/>
<circle cx="1692.7" cy="1497" r="5.1" fill="#000"/>
<circle cx="1732" cy="1496.5" r="5.1" fill="#000"/>
<circle cx="1732" cy="1514.7" r="5.1" fill="#000"/>
<circle cx="1712.2" cy="1522.3" r="5.1" fill="#000"/>
<circle cx="1712.2" cy="1538" r="5.1" fill="#000"/>
<line x1="1815.5" y1="1566.1" x2="1918.5" y2="1566.1" stroke="#000" stroke-width="2.4" stroke-linecap="round"/>
<line x1="1866.9" y1="1545.6" x2="1866.9" y2="1587.6" stroke="#000" stroke-width="2.4" stroke-linecap="butt"/>
<line x1="1841.3" y1="1545.6" x2="1892.7" y2="1545.6" stroke="#000" stroke-width="2.8" stroke-linecap="round"/>
<line x1="1841.3" y1="1587.6" x2="1892.7" y2="1587.6" stroke="#000" stroke-width="2.8" stroke-linecap="round"/>
<rect x="1861.9" y="1533" width="10" height="10" fill="#000"/>
<rect x="1861.9" y="1546.4" width="10" height="10" fill="#000"/>
<rect x="1861.9" y="1554.7" width="10" height="10" fill="#000"/>
<rect x="1861.9" y="1569.2" width="10" height="10" fill="#000"/>
<rect x="1842.2" y="1586.4" width="10" height="10" fill="#000"/>
<rect x="1881.4" y="1581.8" width="10" height="10" fill="#000"/>
<text transform="translate(1529.5,1551.4) rotate(-90)" font-size="27" text-anchor="middle">Neutrophils (%)</text>
<text x="2.5" y="1395" font-size="74" text-anchor="start">E</text>
<text x="980" y="1408.5" font-size="74" text-anchor="start">F</text></svg></body></html>
